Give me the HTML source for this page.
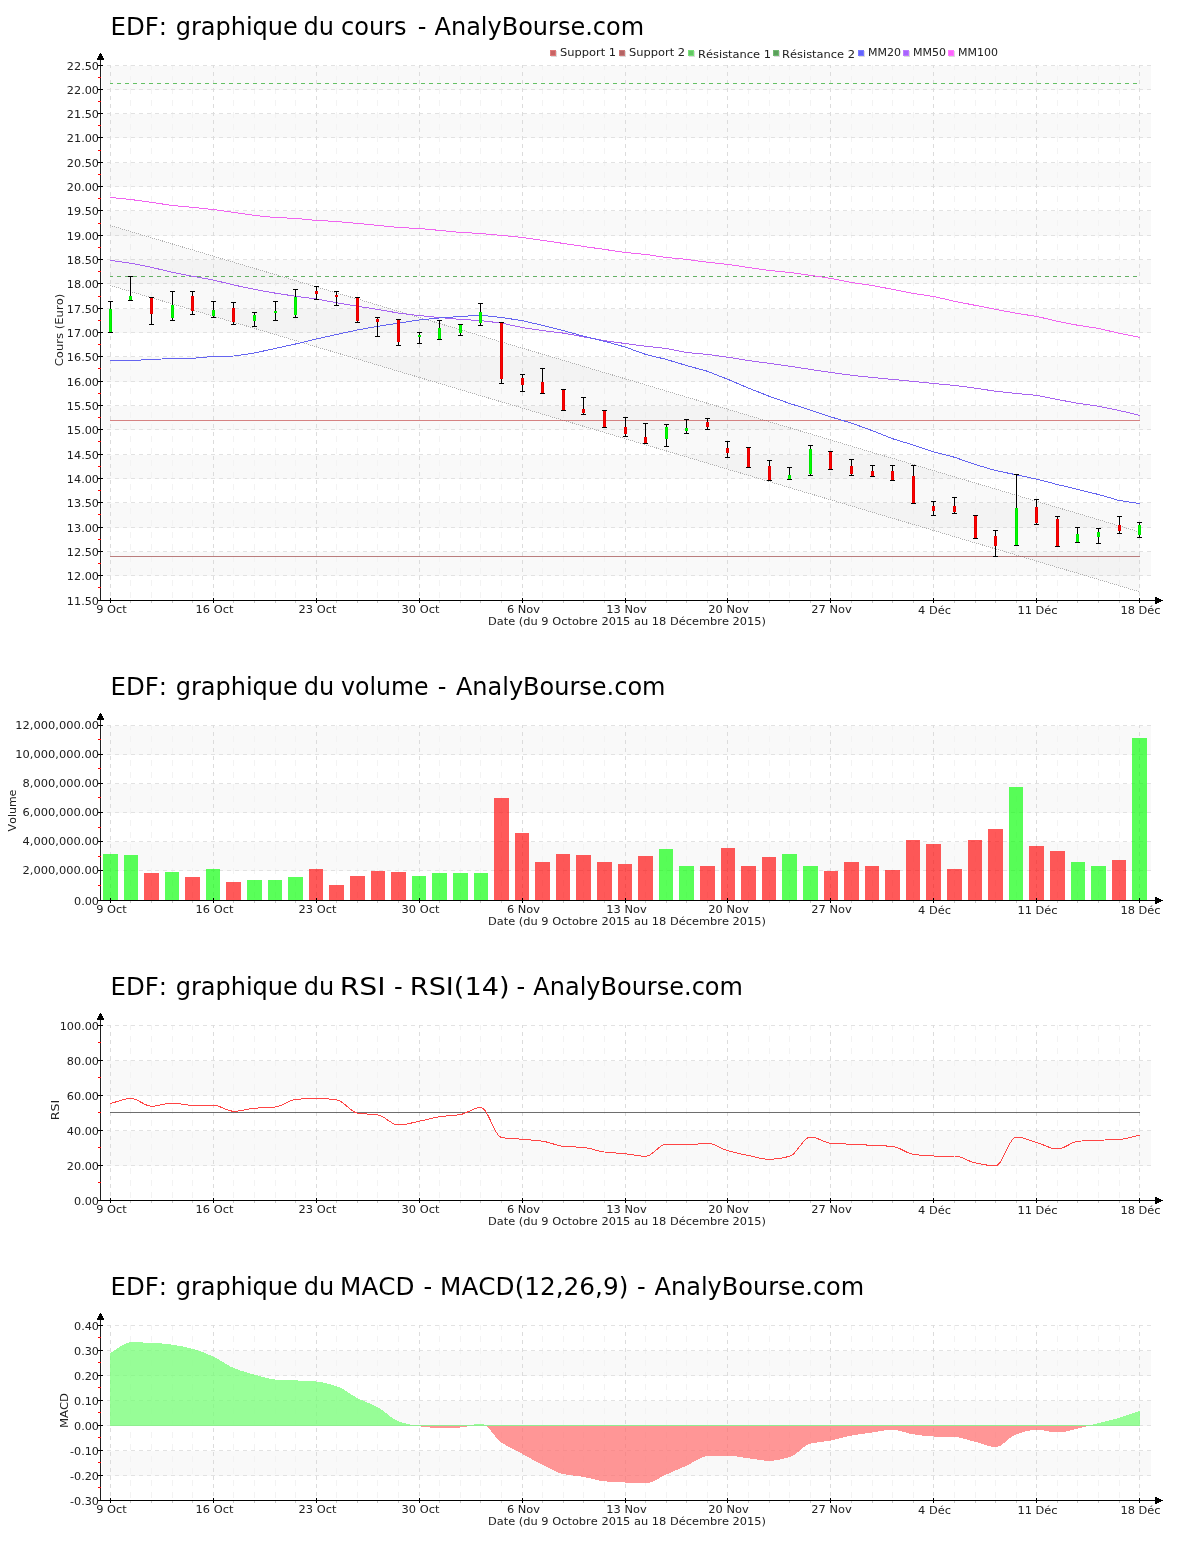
<!DOCTYPE html>
<html><head><meta charset="utf-8"><title>EDF - AnalyBourse.com</title>
<style>
html,body{margin:0;padding:0;background:#fff;}
body{width:1200px;height:1550px;overflow:hidden;}
svg{will-change:transform;display:block;font-family:'DejaVu Sans', 'Liberation Sans', sans-serif;font-kerning:none;font-variant-ligatures:none;}
svg rect, svg line{shape-rendering:crispEdges;}
</style></head><body>
<svg width="1200" height="1550" viewBox="0 0 1200 1550">
<rect x="0" y="0" width="1200" height="1550" fill="#fff"/>
<text x="110.5" y="35" font-size="24" fill="#000" textLength="56.6" lengthAdjust="spacingAndGlyphs">EDF:</text>
<text x="175.7" y="35" font-size="24" fill="#000">graphique</text>
<text x="303.5" y="35" font-size="24" fill="#000">du</text>
<text x="341" y="35" font-size="24" fill="#000">cours</text>
<text x="417.8" y="35" font-size="24" fill="#000">-</text>
<text x="434.5" y="35" font-size="24" fill="#000">AnalyBourse.com</text>
<rect x="102" y="66" width="1049" height="24" fill="#f9f9f9"/>
<rect x="102" y="114" width="1049" height="24" fill="#f9f9f9"/>
<rect x="102" y="163" width="1049" height="24" fill="#f9f9f9"/>
<rect x="102" y="211" width="1049" height="25" fill="#f9f9f9"/>
<rect x="102" y="260" width="1049" height="24" fill="#f9f9f9"/>
<rect x="102" y="309" width="1049" height="24" fill="#f9f9f9"/>
<rect x="102" y="357" width="1049" height="25" fill="#f9f9f9"/>
<rect x="102" y="406" width="1049" height="24" fill="#f9f9f9"/>
<rect x="102" y="455" width="1049" height="24" fill="#f9f9f9"/>
<rect x="102" y="503" width="1049" height="25" fill="#f9f9f9"/>
<rect x="102" y="552" width="1049" height="24" fill="#f9f9f9"/>
<line x1="130.5" y1="65" x2="130.5" y2="600" stroke="#f3f3f3" stroke-dasharray="6,6" stroke-dashoffset="1"/>
<line x1="151.5" y1="65" x2="151.5" y2="600" stroke="#f3f3f3" stroke-dasharray="6,6" stroke-dashoffset="1"/>
<line x1="172.5" y1="65" x2="172.5" y2="600" stroke="#f3f3f3" stroke-dasharray="6,6" stroke-dashoffset="1"/>
<line x1="192.5" y1="65" x2="192.5" y2="600" stroke="#f3f3f3" stroke-dasharray="6,6" stroke-dashoffset="1"/>
<line x1="233.5" y1="65" x2="233.5" y2="600" stroke="#f3f3f3" stroke-dasharray="6,6" stroke-dashoffset="1"/>
<line x1="254.5" y1="65" x2="254.5" y2="600" stroke="#f3f3f3" stroke-dasharray="6,6" stroke-dashoffset="1"/>
<line x1="275.5" y1="65" x2="275.5" y2="600" stroke="#f3f3f3" stroke-dasharray="6,6" stroke-dashoffset="1"/>
<line x1="295.5" y1="65" x2="295.5" y2="600" stroke="#f3f3f3" stroke-dasharray="6,6" stroke-dashoffset="1"/>
<line x1="336.5" y1="65" x2="336.5" y2="600" stroke="#f3f3f3" stroke-dasharray="6,6" stroke-dashoffset="1"/>
<line x1="357.5" y1="65" x2="357.5" y2="600" stroke="#f3f3f3" stroke-dasharray="6,6" stroke-dashoffset="1"/>
<line x1="377.5" y1="65" x2="377.5" y2="600" stroke="#f3f3f3" stroke-dasharray="6,6" stroke-dashoffset="1"/>
<line x1="398.5" y1="65" x2="398.5" y2="600" stroke="#f3f3f3" stroke-dasharray="6,6" stroke-dashoffset="1"/>
<line x1="439.5" y1="65" x2="439.5" y2="600" stroke="#f3f3f3" stroke-dasharray="6,6" stroke-dashoffset="1"/>
<line x1="460.5" y1="65" x2="460.5" y2="600" stroke="#f3f3f3" stroke-dasharray="6,6" stroke-dashoffset="1"/>
<line x1="480.5" y1="65" x2="480.5" y2="600" stroke="#f3f3f3" stroke-dasharray="6,6" stroke-dashoffset="1"/>
<line x1="501.5" y1="65" x2="501.5" y2="600" stroke="#f3f3f3" stroke-dasharray="6,6" stroke-dashoffset="1"/>
<line x1="542.5" y1="65" x2="542.5" y2="600" stroke="#f3f3f3" stroke-dasharray="6,6" stroke-dashoffset="1"/>
<line x1="563.5" y1="65" x2="563.5" y2="600" stroke="#f3f3f3" stroke-dasharray="6,6" stroke-dashoffset="1"/>
<line x1="583.5" y1="65" x2="583.5" y2="600" stroke="#f3f3f3" stroke-dasharray="6,6" stroke-dashoffset="1"/>
<line x1="604.5" y1="65" x2="604.5" y2="600" stroke="#f3f3f3" stroke-dasharray="6,6" stroke-dashoffset="1"/>
<line x1="645.5" y1="65" x2="645.5" y2="600" stroke="#f3f3f3" stroke-dasharray="6,6" stroke-dashoffset="1"/>
<line x1="666.5" y1="65" x2="666.5" y2="600" stroke="#f3f3f3" stroke-dasharray="6,6" stroke-dashoffset="1"/>
<line x1="686.5" y1="65" x2="686.5" y2="600" stroke="#f3f3f3" stroke-dasharray="6,6" stroke-dashoffset="1"/>
<line x1="707.5" y1="65" x2="707.5" y2="600" stroke="#f3f3f3" stroke-dasharray="6,6" stroke-dashoffset="1"/>
<line x1="748.5" y1="65" x2="748.5" y2="600" stroke="#f3f3f3" stroke-dasharray="6,6" stroke-dashoffset="1"/>
<line x1="769.5" y1="65" x2="769.5" y2="600" stroke="#f3f3f3" stroke-dasharray="6,6" stroke-dashoffset="1"/>
<line x1="789.5" y1="65" x2="789.5" y2="600" stroke="#f3f3f3" stroke-dasharray="6,6" stroke-dashoffset="1"/>
<line x1="810.5" y1="65" x2="810.5" y2="600" stroke="#f3f3f3" stroke-dasharray="6,6" stroke-dashoffset="1"/>
<line x1="851.5" y1="65" x2="851.5" y2="600" stroke="#f3f3f3" stroke-dasharray="6,6" stroke-dashoffset="1"/>
<line x1="872.5" y1="65" x2="872.5" y2="600" stroke="#f3f3f3" stroke-dasharray="6,6" stroke-dashoffset="1"/>
<line x1="892.5" y1="65" x2="892.5" y2="600" stroke="#f3f3f3" stroke-dasharray="6,6" stroke-dashoffset="1"/>
<line x1="913.5" y1="65" x2="913.5" y2="600" stroke="#f3f3f3" stroke-dasharray="6,6" stroke-dashoffset="1"/>
<line x1="954.5" y1="65" x2="954.5" y2="600" stroke="#f3f3f3" stroke-dasharray="6,6" stroke-dashoffset="1"/>
<line x1="975.5" y1="65" x2="975.5" y2="600" stroke="#f3f3f3" stroke-dasharray="6,6" stroke-dashoffset="1"/>
<line x1="995.5" y1="65" x2="995.5" y2="600" stroke="#f3f3f3" stroke-dasharray="6,6" stroke-dashoffset="1"/>
<line x1="1016.5" y1="65" x2="1016.5" y2="600" stroke="#f3f3f3" stroke-dasharray="6,6" stroke-dashoffset="1"/>
<line x1="1057.5" y1="65" x2="1057.5" y2="600" stroke="#f3f3f3" stroke-dasharray="6,6" stroke-dashoffset="1"/>
<line x1="1077.5" y1="65" x2="1077.5" y2="600" stroke="#f3f3f3" stroke-dasharray="6,6" stroke-dashoffset="1"/>
<line x1="1098.5" y1="65" x2="1098.5" y2="600" stroke="#f3f3f3" stroke-dasharray="6,6" stroke-dashoffset="1"/>
<line x1="1119.5" y1="65" x2="1119.5" y2="600" stroke="#f3f3f3" stroke-dasharray="6,6" stroke-dashoffset="1"/>
<line x1="107" y1="65.5" x2="1151" y2="65.5" stroke="#e2e2e2" stroke-dasharray="4,4"/>
<line x1="107" y1="89.5" x2="1151" y2="89.5" stroke="#e2e2e2" stroke-dasharray="4,4"/>
<line x1="107" y1="113.5" x2="1151" y2="113.5" stroke="#e2e2e2" stroke-dasharray="4,4"/>
<line x1="107" y1="137.5" x2="1151" y2="137.5" stroke="#e2e2e2" stroke-dasharray="4,4"/>
<line x1="107" y1="162.5" x2="1151" y2="162.5" stroke="#e2e2e2" stroke-dasharray="4,4"/>
<line x1="107" y1="186.5" x2="1151" y2="186.5" stroke="#e2e2e2" stroke-dasharray="4,4"/>
<line x1="107" y1="210.5" x2="1151" y2="210.5" stroke="#e2e2e2" stroke-dasharray="4,4"/>
<line x1="107" y1="235.5" x2="1151" y2="235.5" stroke="#e2e2e2" stroke-dasharray="4,4"/>
<line x1="107" y1="259.5" x2="1151" y2="259.5" stroke="#e2e2e2" stroke-dasharray="4,4"/>
<line x1="107" y1="283.5" x2="1151" y2="283.5" stroke="#e2e2e2" stroke-dasharray="4,4"/>
<line x1="107" y1="308.5" x2="1151" y2="308.5" stroke="#e2e2e2" stroke-dasharray="4,4"/>
<line x1="107" y1="332.5" x2="1151" y2="332.5" stroke="#e2e2e2" stroke-dasharray="4,4"/>
<line x1="107" y1="356.5" x2="1151" y2="356.5" stroke="#e2e2e2" stroke-dasharray="4,4"/>
<line x1="107" y1="381.5" x2="1151" y2="381.5" stroke="#e2e2e2" stroke-dasharray="4,4"/>
<line x1="107" y1="405.5" x2="1151" y2="405.5" stroke="#e2e2e2" stroke-dasharray="4,4"/>
<line x1="107" y1="429.5" x2="1151" y2="429.5" stroke="#e2e2e2" stroke-dasharray="4,4"/>
<line x1="107" y1="454.5" x2="1151" y2="454.5" stroke="#e2e2e2" stroke-dasharray="4,4"/>
<line x1="107" y1="478.5" x2="1151" y2="478.5" stroke="#e2e2e2" stroke-dasharray="4,4"/>
<line x1="107" y1="502.5" x2="1151" y2="502.5" stroke="#e2e2e2" stroke-dasharray="4,4"/>
<line x1="107" y1="527.5" x2="1151" y2="527.5" stroke="#e2e2e2" stroke-dasharray="4,4"/>
<line x1="107" y1="551.5" x2="1151" y2="551.5" stroke="#e2e2e2" stroke-dasharray="4,4"/>
<line x1="107" y1="575.5" x2="1151" y2="575.5" stroke="#e2e2e2" stroke-dasharray="4,4"/>
<line x1="110.5" y1="65" x2="110.5" y2="600" stroke="#dcdcdc" stroke-dasharray="4,4" stroke-dashoffset="1"/>
<line x1="213.5" y1="65" x2="213.5" y2="600" stroke="#dcdcdc" stroke-dasharray="4,4" stroke-dashoffset="1"/>
<line x1="316.5" y1="65" x2="316.5" y2="600" stroke="#dcdcdc" stroke-dasharray="4,4" stroke-dashoffset="1"/>
<line x1="419.5" y1="65" x2="419.5" y2="600" stroke="#dcdcdc" stroke-dasharray="4,4" stroke-dashoffset="1"/>
<line x1="522.5" y1="65" x2="522.5" y2="600" stroke="#dcdcdc" stroke-dasharray="4,4" stroke-dashoffset="1"/>
<line x1="625.5" y1="65" x2="625.5" y2="600" stroke="#dcdcdc" stroke-dasharray="4,4" stroke-dashoffset="1"/>
<line x1="727.5" y1="65" x2="727.5" y2="600" stroke="#dcdcdc" stroke-dasharray="4,4" stroke-dashoffset="1"/>
<line x1="830.5" y1="65" x2="830.5" y2="600" stroke="#dcdcdc" stroke-dasharray="4,4" stroke-dashoffset="1"/>
<line x1="933.5" y1="65" x2="933.5" y2="600" stroke="#dcdcdc" stroke-dasharray="4,4" stroke-dashoffset="1"/>
<line x1="1036.5" y1="65" x2="1036.5" y2="600" stroke="#dcdcdc" stroke-dasharray="4,4" stroke-dashoffset="1"/>
<line x1="1139.5" y1="65" x2="1139.5" y2="600" stroke="#dcdcdc" stroke-dasharray="4,4" stroke-dashoffset="1"/>
<polygon points="110.33,225.5 1139.73,532.0 1139.73,591.8 110.33,285.5" fill="#000" fill-opacity="0.025"/>
<line x1="110.33" y1="225.5" x2="1139.73" y2="532.0" stroke="#b0b0b0" stroke-dasharray="1.04,1.046" shape-rendering="crispEdges"/>
<line x1="110.33" y1="285.5" x2="1139.73" y2="591.8" stroke="#b0b0b0" stroke-dasharray="1.04,1.046" shape-rendering="crispEdges"/>
<rect x="110" y="420" width="1030" height="1" fill="#c65050" fill-opacity="0.7"/>
<rect x="110" y="556" width="1030" height="1" fill="#a04848" fill-opacity="0.7"/>
<line x1="110" y1="83.5" x2="1140" y2="83.5" stroke="#64c064" stroke-dasharray="4,4" stroke-dashoffset="1"/>
<line x1="110" y1="276.5" x2="1140" y2="276.5" stroke="#64b064" stroke-dasharray="4,4" stroke-dashoffset="1"/>
<polyline points="110.33,197.40 130.92,199.50 151.51,202.40 172.09,205.40 192.68,207.40 213.27,209.50 233.86,212.40 254.45,215.40 275.03,217.50 295.62,218.40 316.21,220.40 336.80,221.50 357.39,223.40 377.97,225.40 398.56,227.50 419.15,228.50 439.74,230.40 460.33,232.40 480.91,233.50 501.50,235.40 522.09,237.40 542.68,240.40 563.27,243.40 583.85,246.50 604.44,249.40 625.03,252.50 645.62,254.40 666.21,257.50 686.79,259.40 707.38,262.25 727.97,264.40 748.56,267.50 769.15,270.40 789.73,272.50 810.32,275.25 830.91,278.40 851.50,282.50 872.09,285.40 892.67,289.40 913.26,293.50 933.85,296.50 954.44,301.25 975.03,305.30 995.61,309.30 1016.20,313.30 1036.79,316.40 1057.38,321.30 1077.97,325.30 1098.55,328.40 1119.14,333.30 1139.73,337.30" fill="none" stroke="#f064f0" stroke-width="1" shape-rendering="crispEdges"/>
<polyline points="110.33,260.40 130.92,263.30 151.51,267.30 172.09,272.30 192.68,276.25 213.27,280.00 233.86,285.00 254.45,289.40 275.03,293.10 295.62,296.25 316.21,299.00 336.80,302.75 357.39,306.25 377.97,309.40 398.56,313.10 419.15,315.60 439.74,317.50 460.33,319.40 480.91,320.60 501.50,323.10 522.09,327.50 542.68,330.60 563.27,333.10 583.85,336.90 604.44,340.60 625.03,343.50 645.62,346.25 666.21,348.50 686.79,352.50 707.38,354.40 727.97,357.25 748.56,360.60 769.15,363.30 789.73,366.25 810.32,369.40 830.91,372.50 851.50,375.25 872.09,377.50 892.67,379.40 913.26,381.40 933.85,383.50 954.44,385.40 975.03,388.10 995.61,391.25 1016.20,393.50 1036.79,395.40 1057.38,399.50 1077.97,403.30 1098.55,406.20 1119.14,410.50 1139.73,415.30" fill="none" stroke="#a864f0" stroke-width="1" shape-rendering="crispEdges"/>
<polyline points="110.33,360.50 130.92,360.50 151.51,359.50 172.09,358.50 192.68,358.30 213.27,356.50 233.86,356.00 254.45,353.00 275.03,348.50 295.62,344.00 316.21,339.00 336.80,334.40 357.39,330.00 377.97,326.25 398.56,323.10 419.15,320.00 439.74,317.90 460.33,316.50 480.91,315.25 501.50,317.50 522.09,320.60 542.68,325.40 563.27,330.60 583.85,336.25 604.44,341.25 625.03,347.00 645.62,354.40 666.21,359.40 686.79,365.60 707.38,371.25 727.97,379.40 748.56,388.10 769.15,396.25 789.73,403.50 810.32,410.00 830.91,416.90 851.50,423.10 872.09,430.60 892.67,438.75 913.26,445.00 933.85,451.90 954.44,457.25 975.03,464.40 995.61,470.60 1016.20,474.75 1036.79,479.20 1057.38,484.50 1077.97,489.50 1098.55,494.50 1119.14,500.50 1139.73,503.50" fill="none" stroke="#6464f0" stroke-width="1" shape-rendering="crispEdges"/>
<rect x="110" y="301" width="1" height="32" fill="#000"/>
<rect x="109" y="309" width="3" height="23" fill="#00e400"/>
<rect x="110" y="309" width="1" height="23" fill="#00ff00"/>
<rect x="108" y="301" width="5" height="1" fill="#000"/>
<rect x="108" y="332" width="5" height="1" fill="#000"/>
<rect x="130" y="276" width="1" height="25" fill="#000"/>
<rect x="129" y="296" width="3" height="4" fill="#00e400"/>
<rect x="130" y="296" width="1" height="4" fill="#00ff00"/>
<rect x="128" y="276" width="5" height="1" fill="#000"/>
<rect x="128" y="300" width="5" height="1" fill="#000"/>
<rect x="151" y="297" width="1" height="28" fill="#000"/>
<rect x="150" y="297" width="3" height="17" fill="#e40000"/>
<rect x="151" y="297" width="1" height="17" fill="#ff0000"/>
<rect x="149" y="297" width="5" height="1" fill="#000"/>
<rect x="149" y="324" width="5" height="1" fill="#000"/>
<rect x="172" y="291" width="1" height="30" fill="#000"/>
<rect x="171" y="305" width="3" height="13" fill="#00e400"/>
<rect x="172" y="305" width="1" height="13" fill="#00ff00"/>
<rect x="170" y="291" width="5" height="1" fill="#000"/>
<rect x="170" y="320" width="5" height="1" fill="#000"/>
<rect x="192" y="291" width="1" height="24" fill="#000"/>
<rect x="191" y="296" width="3" height="15" fill="#e40000"/>
<rect x="192" y="296" width="1" height="15" fill="#ff0000"/>
<rect x="190" y="291" width="5" height="1" fill="#000"/>
<rect x="190" y="314" width="5" height="1" fill="#000"/>
<rect x="213" y="301" width="1" height="17" fill="#000"/>
<rect x="212" y="310" width="3" height="6" fill="#00e400"/>
<rect x="213" y="310" width="1" height="6" fill="#00ff00"/>
<rect x="211" y="301" width="5" height="1" fill="#000"/>
<rect x="211" y="317" width="5" height="1" fill="#000"/>
<rect x="233" y="302" width="1" height="23" fill="#000"/>
<rect x="232" y="308" width="3" height="14" fill="#e40000"/>
<rect x="233" y="308" width="1" height="14" fill="#ff0000"/>
<rect x="231" y="302" width="5" height="1" fill="#000"/>
<rect x="231" y="324" width="5" height="1" fill="#000"/>
<rect x="254" y="312" width="1" height="15" fill="#000"/>
<rect x="253" y="315" width="3" height="6" fill="#00e400"/>
<rect x="254" y="315" width="1" height="6" fill="#00ff00"/>
<rect x="252" y="312" width="5" height="1" fill="#000"/>
<rect x="252" y="326" width="5" height="1" fill="#000"/>
<rect x="275" y="301" width="1" height="20" fill="#000"/>
<rect x="274" y="311" width="3" height="2" fill="#00e400"/>
<rect x="275" y="311" width="1" height="2" fill="#00ff00"/>
<rect x="273" y="301" width="5" height="1" fill="#000"/>
<rect x="273" y="320" width="5" height="1" fill="#000"/>
<rect x="295" y="289" width="1" height="29" fill="#000"/>
<rect x="294" y="297" width="3" height="18" fill="#00e400"/>
<rect x="295" y="297" width="1" height="18" fill="#00ff00"/>
<rect x="293" y="289" width="5" height="1" fill="#000"/>
<rect x="293" y="317" width="5" height="1" fill="#000"/>
<rect x="316" y="286" width="1" height="14" fill="#000"/>
<rect x="315" y="291" width="3" height="3" fill="#e40000"/>
<rect x="316" y="291" width="1" height="3" fill="#ff0000"/>
<rect x="314" y="286" width="5" height="1" fill="#000"/>
<rect x="314" y="299" width="5" height="1" fill="#000"/>
<rect x="336" y="291" width="1" height="15" fill="#000"/>
<rect x="335" y="295" width="3" height="2" fill="#e40000"/>
<rect x="336" y="295" width="1" height="2" fill="#ff0000"/>
<rect x="334" y="291" width="5" height="1" fill="#000"/>
<rect x="334" y="305" width="5" height="1" fill="#000"/>
<rect x="357" y="297" width="1" height="26" fill="#000"/>
<rect x="356" y="297" width="3" height="24" fill="#e40000"/>
<rect x="357" y="297" width="1" height="24" fill="#ff0000"/>
<rect x="355" y="297" width="5" height="1" fill="#000"/>
<rect x="355" y="322" width="5" height="1" fill="#000"/>
<rect x="377" y="317" width="1" height="20" fill="#000"/>
<rect x="376" y="319" width="3" height="3" fill="#e40000"/>
<rect x="377" y="319" width="1" height="3" fill="#ff0000"/>
<rect x="375" y="317" width="5" height="1" fill="#000"/>
<rect x="375" y="336" width="5" height="1" fill="#000"/>
<rect x="398" y="319" width="1" height="27" fill="#000"/>
<rect x="397" y="319" width="3" height="23" fill="#e40000"/>
<rect x="398" y="319" width="1" height="23" fill="#ff0000"/>
<rect x="396" y="319" width="5" height="1" fill="#000"/>
<rect x="396" y="345" width="5" height="1" fill="#000"/>
<rect x="419" y="332" width="1" height="12" fill="#000"/>
<rect x="418" y="335" width="3" height="2" fill="#00e400"/>
<rect x="419" y="335" width="1" height="2" fill="#00ff00"/>
<rect x="417" y="332" width="5" height="1" fill="#000"/>
<rect x="417" y="343" width="5" height="1" fill="#000"/>
<rect x="439" y="320" width="1" height="20" fill="#000"/>
<rect x="438" y="328" width="3" height="11" fill="#00e400"/>
<rect x="439" y="328" width="1" height="11" fill="#00ff00"/>
<rect x="437" y="320" width="5" height="1" fill="#000"/>
<rect x="437" y="339" width="5" height="1" fill="#000"/>
<rect x="460" y="324" width="1" height="12" fill="#000"/>
<rect x="459" y="325" width="3" height="8" fill="#00e400"/>
<rect x="460" y="325" width="1" height="8" fill="#00ff00"/>
<rect x="458" y="324" width="5" height="1" fill="#000"/>
<rect x="458" y="335" width="5" height="1" fill="#000"/>
<rect x="480" y="303" width="1" height="23" fill="#000"/>
<rect x="479" y="312" width="3" height="11" fill="#00e400"/>
<rect x="480" y="312" width="1" height="11" fill="#00ff00"/>
<rect x="478" y="303" width="5" height="1" fill="#000"/>
<rect x="478" y="325" width="5" height="1" fill="#000"/>
<rect x="501" y="322" width="1" height="62" fill="#000"/>
<rect x="500" y="322" width="3" height="57" fill="#e40000"/>
<rect x="501" y="322" width="1" height="57" fill="#ff0000"/>
<rect x="499" y="322" width="5" height="1" fill="#000"/>
<rect x="499" y="383" width="5" height="1" fill="#000"/>
<rect x="522" y="374" width="1" height="18" fill="#000"/>
<rect x="521" y="378" width="3" height="7" fill="#e40000"/>
<rect x="522" y="378" width="1" height="7" fill="#ff0000"/>
<rect x="520" y="374" width="5" height="1" fill="#000"/>
<rect x="520" y="391" width="5" height="1" fill="#000"/>
<rect x="542" y="368" width="1" height="26" fill="#000"/>
<rect x="541" y="382" width="3" height="11" fill="#e40000"/>
<rect x="542" y="382" width="1" height="11" fill="#ff0000"/>
<rect x="540" y="368" width="5" height="1" fill="#000"/>
<rect x="540" y="393" width="5" height="1" fill="#000"/>
<rect x="563" y="389" width="1" height="22" fill="#000"/>
<rect x="562" y="389" width="3" height="21" fill="#e40000"/>
<rect x="563" y="389" width="1" height="21" fill="#ff0000"/>
<rect x="561" y="389" width="5" height="1" fill="#000"/>
<rect x="561" y="410" width="5" height="1" fill="#000"/>
<rect x="583" y="397" width="1" height="18" fill="#000"/>
<rect x="582" y="409" width="3" height="4" fill="#e40000"/>
<rect x="583" y="409" width="1" height="4" fill="#ff0000"/>
<rect x="581" y="397" width="5" height="1" fill="#000"/>
<rect x="581" y="414" width="5" height="1" fill="#000"/>
<rect x="604" y="410" width="1" height="18" fill="#000"/>
<rect x="603" y="410" width="3" height="17" fill="#e40000"/>
<rect x="604" y="410" width="1" height="17" fill="#ff0000"/>
<rect x="602" y="410" width="5" height="1" fill="#000"/>
<rect x="602" y="427" width="5" height="1" fill="#000"/>
<rect x="625" y="417" width="1" height="20" fill="#000"/>
<rect x="624" y="427" width="3" height="7" fill="#e40000"/>
<rect x="625" y="427" width="1" height="7" fill="#ff0000"/>
<rect x="623" y="417" width="5" height="1" fill="#000"/>
<rect x="623" y="436" width="5" height="1" fill="#000"/>
<rect x="645" y="423" width="1" height="21" fill="#000"/>
<rect x="644" y="437" width="3" height="6" fill="#e40000"/>
<rect x="645" y="437" width="1" height="6" fill="#ff0000"/>
<rect x="643" y="423" width="5" height="1" fill="#000"/>
<rect x="643" y="443" width="5" height="1" fill="#000"/>
<rect x="666" y="424" width="1" height="23" fill="#000"/>
<rect x="665" y="427" width="3" height="12" fill="#00e400"/>
<rect x="666" y="427" width="1" height="12" fill="#00ff00"/>
<rect x="664" y="424" width="5" height="1" fill="#000"/>
<rect x="664" y="446" width="5" height="1" fill="#000"/>
<rect x="686" y="419" width="1" height="15" fill="#000"/>
<rect x="685" y="428" width="3" height="3" fill="#00e400"/>
<rect x="686" y="428" width="1" height="3" fill="#00ff00"/>
<rect x="684" y="419" width="5" height="1" fill="#000"/>
<rect x="684" y="433" width="5" height="1" fill="#000"/>
<rect x="707" y="418" width="1" height="12" fill="#000"/>
<rect x="706" y="422" width="3" height="5" fill="#e40000"/>
<rect x="707" y="422" width="1" height="5" fill="#ff0000"/>
<rect x="705" y="418" width="5" height="1" fill="#000"/>
<rect x="705" y="429" width="5" height="1" fill="#000"/>
<rect x="727" y="441" width="1" height="17" fill="#000"/>
<rect x="726" y="448" width="3" height="5" fill="#e40000"/>
<rect x="727" y="448" width="1" height="5" fill="#ff0000"/>
<rect x="725" y="441" width="5" height="1" fill="#000"/>
<rect x="725" y="457" width="5" height="1" fill="#000"/>
<rect x="748" y="447" width="1" height="21" fill="#000"/>
<rect x="747" y="447" width="3" height="20" fill="#e40000"/>
<rect x="748" y="447" width="1" height="20" fill="#ff0000"/>
<rect x="746" y="447" width="5" height="1" fill="#000"/>
<rect x="746" y="467" width="5" height="1" fill="#000"/>
<rect x="769" y="460" width="1" height="21" fill="#000"/>
<rect x="768" y="466" width="3" height="14" fill="#e40000"/>
<rect x="769" y="466" width="1" height="14" fill="#ff0000"/>
<rect x="767" y="460" width="5" height="1" fill="#000"/>
<rect x="767" y="480" width="5" height="1" fill="#000"/>
<rect x="789" y="467" width="1" height="13" fill="#000"/>
<rect x="788" y="475" width="3" height="4" fill="#00e400"/>
<rect x="789" y="475" width="1" height="4" fill="#00ff00"/>
<rect x="787" y="467" width="5" height="1" fill="#000"/>
<rect x="787" y="479" width="5" height="1" fill="#000"/>
<rect x="810" y="445" width="1" height="31" fill="#000"/>
<rect x="809" y="449" width="3" height="25" fill="#00e400"/>
<rect x="810" y="449" width="1" height="25" fill="#00ff00"/>
<rect x="808" y="445" width="5" height="1" fill="#000"/>
<rect x="808" y="475" width="5" height="1" fill="#000"/>
<rect x="830" y="451" width="1" height="19" fill="#000"/>
<rect x="829" y="451" width="3" height="18" fill="#e40000"/>
<rect x="830" y="451" width="1" height="18" fill="#ff0000"/>
<rect x="828" y="451" width="5" height="1" fill="#000"/>
<rect x="828" y="469" width="5" height="1" fill="#000"/>
<rect x="851" y="459" width="1" height="17" fill="#000"/>
<rect x="850" y="466" width="3" height="8" fill="#e40000"/>
<rect x="851" y="466" width="1" height="8" fill="#ff0000"/>
<rect x="849" y="459" width="5" height="1" fill="#000"/>
<rect x="849" y="475" width="5" height="1" fill="#000"/>
<rect x="872" y="465" width="1" height="12" fill="#000"/>
<rect x="871" y="471" width="3" height="5" fill="#e40000"/>
<rect x="872" y="471" width="1" height="5" fill="#ff0000"/>
<rect x="870" y="465" width="5" height="1" fill="#000"/>
<rect x="870" y="476" width="5" height="1" fill="#000"/>
<rect x="892" y="465" width="1" height="16" fill="#000"/>
<rect x="891" y="471" width="3" height="9" fill="#e40000"/>
<rect x="892" y="471" width="1" height="9" fill="#ff0000"/>
<rect x="890" y="465" width="5" height="1" fill="#000"/>
<rect x="890" y="480" width="5" height="1" fill="#000"/>
<rect x="913" y="465" width="1" height="39" fill="#000"/>
<rect x="912" y="476" width="3" height="27" fill="#e40000"/>
<rect x="913" y="476" width="1" height="27" fill="#ff0000"/>
<rect x="911" y="465" width="5" height="1" fill="#000"/>
<rect x="911" y="503" width="5" height="1" fill="#000"/>
<rect x="933" y="501" width="1" height="15" fill="#000"/>
<rect x="932" y="506" width="3" height="5" fill="#e40000"/>
<rect x="933" y="506" width="1" height="5" fill="#ff0000"/>
<rect x="931" y="501" width="5" height="1" fill="#000"/>
<rect x="931" y="515" width="5" height="1" fill="#000"/>
<rect x="954" y="497" width="1" height="17" fill="#000"/>
<rect x="953" y="506" width="3" height="6" fill="#e40000"/>
<rect x="954" y="506" width="1" height="6" fill="#ff0000"/>
<rect x="952" y="497" width="5" height="1" fill="#000"/>
<rect x="952" y="513" width="5" height="1" fill="#000"/>
<rect x="975" y="515" width="1" height="24" fill="#000"/>
<rect x="974" y="515" width="3" height="23" fill="#e40000"/>
<rect x="975" y="515" width="1" height="23" fill="#ff0000"/>
<rect x="973" y="515" width="5" height="1" fill="#000"/>
<rect x="973" y="538" width="5" height="1" fill="#000"/>
<rect x="995" y="530" width="1" height="27" fill="#000"/>
<rect x="994" y="536" width="3" height="10" fill="#e40000"/>
<rect x="995" y="536" width="1" height="10" fill="#ff0000"/>
<rect x="993" y="530" width="5" height="1" fill="#000"/>
<rect x="993" y="556" width="5" height="1" fill="#000"/>
<rect x="1016" y="474" width="1" height="72" fill="#000"/>
<rect x="1015" y="508" width="3" height="37" fill="#00e400"/>
<rect x="1016" y="508" width="1" height="37" fill="#00ff00"/>
<rect x="1014" y="474" width="5" height="1" fill="#000"/>
<rect x="1014" y="545" width="5" height="1" fill="#000"/>
<rect x="1036" y="499" width="1" height="26" fill="#000"/>
<rect x="1035" y="507" width="3" height="16" fill="#e40000"/>
<rect x="1036" y="507" width="1" height="16" fill="#ff0000"/>
<rect x="1034" y="499" width="5" height="1" fill="#000"/>
<rect x="1034" y="524" width="5" height="1" fill="#000"/>
<rect x="1057" y="516" width="1" height="31" fill="#000"/>
<rect x="1056" y="519" width="3" height="27" fill="#e40000"/>
<rect x="1057" y="519" width="1" height="27" fill="#ff0000"/>
<rect x="1055" y="516" width="5" height="1" fill="#000"/>
<rect x="1055" y="546" width="5" height="1" fill="#000"/>
<rect x="1077" y="527" width="1" height="16" fill="#000"/>
<rect x="1076" y="534" width="3" height="8" fill="#00e400"/>
<rect x="1077" y="534" width="1" height="8" fill="#00ff00"/>
<rect x="1075" y="527" width="5" height="1" fill="#000"/>
<rect x="1075" y="542" width="5" height="1" fill="#000"/>
<rect x="1098" y="528" width="1" height="16" fill="#000"/>
<rect x="1097" y="532" width="3" height="5" fill="#00e400"/>
<rect x="1098" y="532" width="1" height="5" fill="#00ff00"/>
<rect x="1096" y="528" width="5" height="1" fill="#000"/>
<rect x="1096" y="543" width="5" height="1" fill="#000"/>
<rect x="1119" y="516" width="1" height="18" fill="#000"/>
<rect x="1118" y="525" width="3" height="6" fill="#e40000"/>
<rect x="1119" y="525" width="1" height="6" fill="#ff0000"/>
<rect x="1117" y="516" width="5" height="1" fill="#000"/>
<rect x="1117" y="533" width="5" height="1" fill="#000"/>
<rect x="1139" y="522" width="1" height="16" fill="#000"/>
<rect x="1138" y="525" width="3" height="10" fill="#00e400"/>
<rect x="1139" y="525" width="1" height="10" fill="#00ff00"/>
<rect x="1137" y="522" width="5" height="1" fill="#000"/>
<rect x="1137" y="537" width="5" height="1" fill="#000"/>
<rect x="100" y="58" width="1" height="543" fill="#1e1e1e"/>
<rect x="100" y="53" width="1" height="1" fill="#000"/>
<rect x="99" y="54" width="3" height="2" fill="#000"/>
<rect x="98" y="56" width="5" height="2" fill="#000"/>
<rect x="97" y="58" width="7" height="2" fill="#000"/>
<rect x="100" y="600" width="1063" height="1" fill="#000"/>
<rect x="1155" y="597" width="2" height="7" fill="#000"/>
<rect x="1157" y="598" width="2" height="5" fill="#000"/>
<rect x="1159" y="599" width="2" height="3" fill="#000"/>
<rect x="98" y="65" width="5" height="1" fill="#000"/>
<rect x="98" y="89" width="5" height="1" fill="#000"/>
<rect x="98" y="113" width="5" height="1" fill="#000"/>
<rect x="98" y="137" width="5" height="1" fill="#000"/>
<rect x="98" y="162" width="5" height="1" fill="#000"/>
<rect x="98" y="186" width="5" height="1" fill="#000"/>
<rect x="98" y="210" width="5" height="1" fill="#000"/>
<rect x="98" y="235" width="5" height="1" fill="#000"/>
<rect x="98" y="259" width="5" height="1" fill="#000"/>
<rect x="98" y="283" width="5" height="1" fill="#000"/>
<rect x="98" y="308" width="5" height="1" fill="#000"/>
<rect x="98" y="332" width="5" height="1" fill="#000"/>
<rect x="98" y="356" width="5" height="1" fill="#000"/>
<rect x="98" y="381" width="5" height="1" fill="#000"/>
<rect x="98" y="405" width="5" height="1" fill="#000"/>
<rect x="98" y="429" width="5" height="1" fill="#000"/>
<rect x="98" y="454" width="5" height="1" fill="#000"/>
<rect x="98" y="478" width="5" height="1" fill="#000"/>
<rect x="98" y="502" width="5" height="1" fill="#000"/>
<rect x="98" y="527" width="5" height="1" fill="#000"/>
<rect x="98" y="551" width="5" height="1" fill="#000"/>
<rect x="98" y="575" width="5" height="1" fill="#000"/>
<rect x="98" y="600" width="5" height="1" fill="#000"/>
<rect x="98" y="77" width="3" height="1" fill="#ff0000"/>
<rect x="98" y="101" width="3" height="1" fill="#ff0000"/>
<rect x="98" y="125" width="3" height="1" fill="#ff0000"/>
<rect x="98" y="150" width="3" height="1" fill="#ff0000"/>
<rect x="98" y="174" width="3" height="1" fill="#ff0000"/>
<rect x="98" y="198" width="3" height="1" fill="#ff0000"/>
<rect x="98" y="223" width="3" height="1" fill="#ff0000"/>
<rect x="98" y="247" width="3" height="1" fill="#ff0000"/>
<rect x="98" y="271" width="3" height="1" fill="#ff0000"/>
<rect x="98" y="296" width="3" height="1" fill="#ff0000"/>
<rect x="98" y="320" width="3" height="1" fill="#ff0000"/>
<rect x="98" y="344" width="3" height="1" fill="#ff0000"/>
<rect x="98" y="368" width="3" height="1" fill="#ff0000"/>
<rect x="98" y="393" width="3" height="1" fill="#ff0000"/>
<rect x="98" y="417" width="3" height="1" fill="#ff0000"/>
<rect x="98" y="441" width="3" height="1" fill="#ff0000"/>
<rect x="98" y="466" width="3" height="1" fill="#ff0000"/>
<rect x="98" y="490" width="3" height="1" fill="#ff0000"/>
<rect x="98" y="514" width="3" height="1" fill="#ff0000"/>
<rect x="98" y="539" width="3" height="1" fill="#ff0000"/>
<rect x="98" y="563" width="3" height="1" fill="#ff0000"/>
<rect x="98" y="587" width="3" height="1" fill="#ff0000"/>
<text x="99" y="70" font-size="11" fill="#202020" text-anchor="end" textLength="32.12" lengthAdjust="spacingAndGlyphs">22.50</text>
<text x="99" y="94" font-size="11" fill="#202020" text-anchor="end" textLength="32.12" lengthAdjust="spacingAndGlyphs">22.00</text>
<text x="99" y="118" font-size="11" fill="#202020" text-anchor="end" textLength="32.12" lengthAdjust="spacingAndGlyphs">21.50</text>
<text x="99" y="142" font-size="11" fill="#202020" text-anchor="end" textLength="32.12" lengthAdjust="spacingAndGlyphs">21.00</text>
<text x="99" y="167" font-size="11" fill="#202020" text-anchor="end" textLength="32.12" lengthAdjust="spacingAndGlyphs">20.50</text>
<text x="99" y="191" font-size="11" fill="#202020" text-anchor="end" textLength="32.12" lengthAdjust="spacingAndGlyphs">20.00</text>
<text x="99" y="215" font-size="11" fill="#202020" text-anchor="end" textLength="32.12" lengthAdjust="spacingAndGlyphs">19.50</text>
<text x="99" y="240" font-size="11" fill="#202020" text-anchor="end" textLength="32.12" lengthAdjust="spacingAndGlyphs">19.00</text>
<text x="99" y="264" font-size="11" fill="#202020" text-anchor="end" textLength="32.12" lengthAdjust="spacingAndGlyphs">18.50</text>
<text x="99" y="288" font-size="11" fill="#202020" text-anchor="end" textLength="32.12" lengthAdjust="spacingAndGlyphs">18.00</text>
<text x="99" y="313" font-size="11" fill="#202020" text-anchor="end" textLength="32.12" lengthAdjust="spacingAndGlyphs">17.50</text>
<text x="99" y="337" font-size="11" fill="#202020" text-anchor="end" textLength="32.12" lengthAdjust="spacingAndGlyphs">17.00</text>
<text x="99" y="361" font-size="11" fill="#202020" text-anchor="end" textLength="32.12" lengthAdjust="spacingAndGlyphs">16.50</text>
<text x="99" y="386" font-size="11" fill="#202020" text-anchor="end" textLength="32.12" lengthAdjust="spacingAndGlyphs">16.00</text>
<text x="99" y="410" font-size="11" fill="#202020" text-anchor="end" textLength="32.12" lengthAdjust="spacingAndGlyphs">15.50</text>
<text x="99" y="434" font-size="11" fill="#202020" text-anchor="end" textLength="32.12" lengthAdjust="spacingAndGlyphs">15.00</text>
<text x="99" y="459" font-size="11" fill="#202020" text-anchor="end" textLength="32.12" lengthAdjust="spacingAndGlyphs">14.50</text>
<text x="99" y="483" font-size="11" fill="#202020" text-anchor="end" textLength="32.12" lengthAdjust="spacingAndGlyphs">14.00</text>
<text x="99" y="507" font-size="11" fill="#202020" text-anchor="end" textLength="32.12" lengthAdjust="spacingAndGlyphs">13.50</text>
<text x="99" y="532" font-size="11" fill="#202020" text-anchor="end" textLength="32.12" lengthAdjust="spacingAndGlyphs">13.00</text>
<text x="99" y="556" font-size="11" fill="#202020" text-anchor="end" textLength="32.12" lengthAdjust="spacingAndGlyphs">12.50</text>
<text x="99" y="580" font-size="11" fill="#202020" text-anchor="end" textLength="32.12" lengthAdjust="spacingAndGlyphs">12.00</text>
<text x="99" y="605" font-size="11" fill="#202020" text-anchor="end" textLength="32.12" lengthAdjust="spacingAndGlyphs">11.50</text>
<rect x="110" y="598" width="1" height="5" fill="#000"/>
<rect x="130" y="601" width="1" height="2" fill="#c8c8c8"/>
<rect x="151" y="601" width="1" height="2" fill="#c8c8c8"/>
<rect x="172" y="601" width="1" height="2" fill="#c8c8c8"/>
<rect x="192" y="601" width="1" height="2" fill="#c8c8c8"/>
<rect x="213" y="598" width="1" height="5" fill="#000"/>
<rect x="233" y="601" width="1" height="2" fill="#c8c8c8"/>
<rect x="254" y="601" width="1" height="2" fill="#c8c8c8"/>
<rect x="275" y="601" width="1" height="2" fill="#c8c8c8"/>
<rect x="295" y="601" width="1" height="2" fill="#c8c8c8"/>
<rect x="316" y="598" width="1" height="5" fill="#000"/>
<rect x="336" y="601" width="1" height="2" fill="#c8c8c8"/>
<rect x="357" y="601" width="1" height="2" fill="#c8c8c8"/>
<rect x="377" y="601" width="1" height="2" fill="#c8c8c8"/>
<rect x="398" y="601" width="1" height="2" fill="#c8c8c8"/>
<rect x="419" y="598" width="1" height="5" fill="#000"/>
<rect x="439" y="601" width="1" height="2" fill="#c8c8c8"/>
<rect x="460" y="601" width="1" height="2" fill="#c8c8c8"/>
<rect x="480" y="601" width="1" height="2" fill="#c8c8c8"/>
<rect x="501" y="601" width="1" height="2" fill="#c8c8c8"/>
<rect x="522" y="598" width="1" height="5" fill="#000"/>
<rect x="542" y="601" width="1" height="2" fill="#c8c8c8"/>
<rect x="563" y="601" width="1" height="2" fill="#c8c8c8"/>
<rect x="583" y="601" width="1" height="2" fill="#c8c8c8"/>
<rect x="604" y="601" width="1" height="2" fill="#c8c8c8"/>
<rect x="625" y="598" width="1" height="5" fill="#000"/>
<rect x="645" y="601" width="1" height="2" fill="#c8c8c8"/>
<rect x="666" y="601" width="1" height="2" fill="#c8c8c8"/>
<rect x="686" y="601" width="1" height="2" fill="#c8c8c8"/>
<rect x="707" y="601" width="1" height="2" fill="#c8c8c8"/>
<rect x="727" y="598" width="1" height="5" fill="#000"/>
<rect x="748" y="601" width="1" height="2" fill="#c8c8c8"/>
<rect x="769" y="601" width="1" height="2" fill="#c8c8c8"/>
<rect x="789" y="601" width="1" height="2" fill="#c8c8c8"/>
<rect x="810" y="601" width="1" height="2" fill="#c8c8c8"/>
<rect x="830" y="598" width="1" height="5" fill="#000"/>
<rect x="851" y="601" width="1" height="2" fill="#c8c8c8"/>
<rect x="872" y="601" width="1" height="2" fill="#c8c8c8"/>
<rect x="892" y="601" width="1" height="2" fill="#c8c8c8"/>
<rect x="913" y="601" width="1" height="2" fill="#c8c8c8"/>
<rect x="933" y="598" width="1" height="5" fill="#000"/>
<rect x="954" y="601" width="1" height="2" fill="#c8c8c8"/>
<rect x="975" y="601" width="1" height="2" fill="#c8c8c8"/>
<rect x="995" y="601" width="1" height="2" fill="#c8c8c8"/>
<rect x="1016" y="601" width="1" height="2" fill="#c8c8c8"/>
<rect x="1036" y="598" width="1" height="5" fill="#000"/>
<rect x="1057" y="601" width="1" height="2" fill="#c8c8c8"/>
<rect x="1077" y="601" width="1" height="2" fill="#c8c8c8"/>
<rect x="1098" y="601" width="1" height="2" fill="#c8c8c8"/>
<rect x="1119" y="601" width="1" height="2" fill="#c8c8c8"/>
<rect x="1139" y="598" width="1" height="5" fill="#000"/>
<text x="111.5" y="613" font-size="11" fill="#202020" text-anchor="middle" textLength="30.55" lengthAdjust="spacingAndGlyphs">9 Oct</text>
<text x="214.5" y="613" font-size="11" fill="#202020" text-anchor="middle" textLength="37.79" lengthAdjust="spacingAndGlyphs">16 Oct</text>
<text x="317.5" y="613" font-size="11" fill="#202020" text-anchor="middle" textLength="37.79" lengthAdjust="spacingAndGlyphs">23 Oct</text>
<text x="420.5" y="613" font-size="11" fill="#202020" text-anchor="middle" textLength="37.79" lengthAdjust="spacingAndGlyphs">30 Oct</text>
<text x="523.5" y="613" font-size="11" fill="#202020" text-anchor="middle" textLength="33.08" lengthAdjust="spacingAndGlyphs">6 Nov</text>
<text x="626.5" y="613" font-size="11" fill="#202020" text-anchor="middle" textLength="40.33" lengthAdjust="spacingAndGlyphs">13 Nov</text>
<text x="728.5" y="613" font-size="11" fill="#202020" text-anchor="middle" textLength="40.33" lengthAdjust="spacingAndGlyphs">20 Nov</text>
<text x="831.5" y="613" font-size="11" fill="#202020" text-anchor="middle" textLength="40.33" lengthAdjust="spacingAndGlyphs">27 Nov</text>
<text x="934.5" y="614" font-size="11" fill="#202020" text-anchor="middle" textLength="32.89" lengthAdjust="spacingAndGlyphs">4 Déc</text>
<text x="1037.5" y="614" font-size="11" fill="#202020" text-anchor="middle" textLength="40.14" lengthAdjust="spacingAndGlyphs">11 Déc</text>
<text x="1140.5" y="614" font-size="11" fill="#202020" text-anchor="middle" textLength="40.14" lengthAdjust="spacingAndGlyphs">18 Déc</text>
<text x="627" y="625" font-size="11" fill="#202020" text-anchor="middle" textLength="277.96" lengthAdjust="spacingAndGlyphs">Date (du 9 Octobre 2015 au 18 Décembre 2015)</text>
<text x="0" y="0" font-size="11" fill="#202020" text-anchor="middle" textLength="72.68" lengthAdjust="spacingAndGlyphs" transform="translate(62.5,330) rotate(-90)">Cours (Euro)</text>
<rect x="551" y="51" width="6" height="6" fill="#dcdcdc"/>
<rect x="550" y="50" width="6" height="6" fill="#de7a7a"/>
<rect x="551" y="51" width="4" height="4" fill="#c86464"/>
<text x="560" y="56" font-size="11" fill="#202020" textLength="56.14" lengthAdjust="spacingAndGlyphs">Support 1</text>
<rect x="620" y="51" width="6" height="6" fill="#dcdcdc"/>
<rect x="619" y="50" width="6" height="6" fill="#ca7a7a"/>
<rect x="620" y="51" width="4" height="4" fill="#b46464"/>
<text x="629" y="56" font-size="11" fill="#202020" textLength="56.14" lengthAdjust="spacingAndGlyphs">Support 2</text>
<rect x="689" y="51" width="6" height="6" fill="#dcdcdc"/>
<rect x="688" y="50" width="6" height="6" fill="#7ade7a"/>
<rect x="689" y="51" width="4" height="4" fill="#64c864"/>
<text x="698" y="58" font-size="11" fill="#202020" textLength="73.08" lengthAdjust="spacingAndGlyphs">Résistance 1</text>
<rect x="774" y="51" width="6" height="6" fill="#dcdcdc"/>
<rect x="773" y="50" width="6" height="6" fill="#70b670"/>
<rect x="774" y="51" width="4" height="4" fill="#5aa05a"/>
<text x="782" y="58" font-size="11" fill="#202020" textLength="73.08" lengthAdjust="spacingAndGlyphs">Résistance 2</text>
<rect x="859" y="51" width="6" height="6" fill="#dcdcdc"/>
<rect x="858" y="50" width="6" height="6" fill="#7a7aff"/>
<rect x="859" y="51" width="4" height="4" fill="#6464ff"/>
<text x="868" y="56" font-size="11" fill="#202020">MM20</text>
<rect x="904" y="51" width="6" height="6" fill="#dcdcdc"/>
<rect x="903" y="50" width="6" height="6" fill="#be7aff"/>
<rect x="904" y="51" width="4" height="4" fill="#a864ff"/>
<text x="913" y="56" font-size="11" fill="#202020">MM50</text>
<rect x="949" y="51" width="6" height="6" fill="#dcdcdc"/>
<rect x="948" y="50" width="6" height="6" fill="#ff7aff"/>
<rect x="949" y="51" width="4" height="4" fill="#ff64ff"/>
<text x="958" y="56" font-size="11" fill="#202020">MM100</text>
<text x="110.5" y="695" font-size="24" fill="#000" textLength="56.6" lengthAdjust="spacingAndGlyphs">EDF:</text>
<text x="175.7" y="695" font-size="24" fill="#000">graphique</text>
<text x="303.8" y="695" font-size="24" fill="#000">du</text>
<text x="341" y="695" font-size="24" fill="#000" textLength="87.5" lengthAdjust="spacingAndGlyphs">volume</text>
<text x="437.7" y="695" font-size="24" fill="#000">-</text>
<text x="455.9" y="695" font-size="24" fill="#000">AnalyBourse.com</text>
<rect x="102" y="726" width="1049" height="29" fill="#f9f9f9"/>
<rect x="102" y="784" width="1049" height="29" fill="#f9f9f9"/>
<rect x="102" y="842" width="1049" height="29" fill="#f9f9f9"/>
<line x1="130.5" y1="725" x2="130.5" y2="900" stroke="#f3f3f3" stroke-dasharray="6,6" stroke-dashoffset="1"/>
<line x1="151.5" y1="725" x2="151.5" y2="900" stroke="#f3f3f3" stroke-dasharray="6,6" stroke-dashoffset="1"/>
<line x1="172.5" y1="725" x2="172.5" y2="900" stroke="#f3f3f3" stroke-dasharray="6,6" stroke-dashoffset="1"/>
<line x1="192.5" y1="725" x2="192.5" y2="900" stroke="#f3f3f3" stroke-dasharray="6,6" stroke-dashoffset="1"/>
<line x1="233.5" y1="725" x2="233.5" y2="900" stroke="#f3f3f3" stroke-dasharray="6,6" stroke-dashoffset="1"/>
<line x1="254.5" y1="725" x2="254.5" y2="900" stroke="#f3f3f3" stroke-dasharray="6,6" stroke-dashoffset="1"/>
<line x1="275.5" y1="725" x2="275.5" y2="900" stroke="#f3f3f3" stroke-dasharray="6,6" stroke-dashoffset="1"/>
<line x1="295.5" y1="725" x2="295.5" y2="900" stroke="#f3f3f3" stroke-dasharray="6,6" stroke-dashoffset="1"/>
<line x1="336.5" y1="725" x2="336.5" y2="900" stroke="#f3f3f3" stroke-dasharray="6,6" stroke-dashoffset="1"/>
<line x1="357.5" y1="725" x2="357.5" y2="900" stroke="#f3f3f3" stroke-dasharray="6,6" stroke-dashoffset="1"/>
<line x1="377.5" y1="725" x2="377.5" y2="900" stroke="#f3f3f3" stroke-dasharray="6,6" stroke-dashoffset="1"/>
<line x1="398.5" y1="725" x2="398.5" y2="900" stroke="#f3f3f3" stroke-dasharray="6,6" stroke-dashoffset="1"/>
<line x1="439.5" y1="725" x2="439.5" y2="900" stroke="#f3f3f3" stroke-dasharray="6,6" stroke-dashoffset="1"/>
<line x1="460.5" y1="725" x2="460.5" y2="900" stroke="#f3f3f3" stroke-dasharray="6,6" stroke-dashoffset="1"/>
<line x1="480.5" y1="725" x2="480.5" y2="900" stroke="#f3f3f3" stroke-dasharray="6,6" stroke-dashoffset="1"/>
<line x1="501.5" y1="725" x2="501.5" y2="900" stroke="#f3f3f3" stroke-dasharray="6,6" stroke-dashoffset="1"/>
<line x1="542.5" y1="725" x2="542.5" y2="900" stroke="#f3f3f3" stroke-dasharray="6,6" stroke-dashoffset="1"/>
<line x1="563.5" y1="725" x2="563.5" y2="900" stroke="#f3f3f3" stroke-dasharray="6,6" stroke-dashoffset="1"/>
<line x1="583.5" y1="725" x2="583.5" y2="900" stroke="#f3f3f3" stroke-dasharray="6,6" stroke-dashoffset="1"/>
<line x1="604.5" y1="725" x2="604.5" y2="900" stroke="#f3f3f3" stroke-dasharray="6,6" stroke-dashoffset="1"/>
<line x1="645.5" y1="725" x2="645.5" y2="900" stroke="#f3f3f3" stroke-dasharray="6,6" stroke-dashoffset="1"/>
<line x1="666.5" y1="725" x2="666.5" y2="900" stroke="#f3f3f3" stroke-dasharray="6,6" stroke-dashoffset="1"/>
<line x1="686.5" y1="725" x2="686.5" y2="900" stroke="#f3f3f3" stroke-dasharray="6,6" stroke-dashoffset="1"/>
<line x1="707.5" y1="725" x2="707.5" y2="900" stroke="#f3f3f3" stroke-dasharray="6,6" stroke-dashoffset="1"/>
<line x1="748.5" y1="725" x2="748.5" y2="900" stroke="#f3f3f3" stroke-dasharray="6,6" stroke-dashoffset="1"/>
<line x1="769.5" y1="725" x2="769.5" y2="900" stroke="#f3f3f3" stroke-dasharray="6,6" stroke-dashoffset="1"/>
<line x1="789.5" y1="725" x2="789.5" y2="900" stroke="#f3f3f3" stroke-dasharray="6,6" stroke-dashoffset="1"/>
<line x1="810.5" y1="725" x2="810.5" y2="900" stroke="#f3f3f3" stroke-dasharray="6,6" stroke-dashoffset="1"/>
<line x1="851.5" y1="725" x2="851.5" y2="900" stroke="#f3f3f3" stroke-dasharray="6,6" stroke-dashoffset="1"/>
<line x1="872.5" y1="725" x2="872.5" y2="900" stroke="#f3f3f3" stroke-dasharray="6,6" stroke-dashoffset="1"/>
<line x1="892.5" y1="725" x2="892.5" y2="900" stroke="#f3f3f3" stroke-dasharray="6,6" stroke-dashoffset="1"/>
<line x1="913.5" y1="725" x2="913.5" y2="900" stroke="#f3f3f3" stroke-dasharray="6,6" stroke-dashoffset="1"/>
<line x1="954.5" y1="725" x2="954.5" y2="900" stroke="#f3f3f3" stroke-dasharray="6,6" stroke-dashoffset="1"/>
<line x1="975.5" y1="725" x2="975.5" y2="900" stroke="#f3f3f3" stroke-dasharray="6,6" stroke-dashoffset="1"/>
<line x1="995.5" y1="725" x2="995.5" y2="900" stroke="#f3f3f3" stroke-dasharray="6,6" stroke-dashoffset="1"/>
<line x1="1016.5" y1="725" x2="1016.5" y2="900" stroke="#f3f3f3" stroke-dasharray="6,6" stroke-dashoffset="1"/>
<line x1="1057.5" y1="725" x2="1057.5" y2="900" stroke="#f3f3f3" stroke-dasharray="6,6" stroke-dashoffset="1"/>
<line x1="1077.5" y1="725" x2="1077.5" y2="900" stroke="#f3f3f3" stroke-dasharray="6,6" stroke-dashoffset="1"/>
<line x1="1098.5" y1="725" x2="1098.5" y2="900" stroke="#f3f3f3" stroke-dasharray="6,6" stroke-dashoffset="1"/>
<line x1="1119.5" y1="725" x2="1119.5" y2="900" stroke="#f3f3f3" stroke-dasharray="6,6" stroke-dashoffset="1"/>
<line x1="107" y1="725.5" x2="1151" y2="725.5" stroke="#e2e2e2" stroke-dasharray="4,4"/>
<line x1="107" y1="754.5" x2="1151" y2="754.5" stroke="#e2e2e2" stroke-dasharray="4,4"/>
<line x1="107" y1="783.5" x2="1151" y2="783.5" stroke="#e2e2e2" stroke-dasharray="4,4"/>
<line x1="107" y1="812.5" x2="1151" y2="812.5" stroke="#e2e2e2" stroke-dasharray="4,4"/>
<line x1="107" y1="841.5" x2="1151" y2="841.5" stroke="#e2e2e2" stroke-dasharray="4,4"/>
<line x1="107" y1="870.5" x2="1151" y2="870.5" stroke="#e2e2e2" stroke-dasharray="4,4"/>
<line x1="110.5" y1="725" x2="110.5" y2="900" stroke="#dcdcdc" stroke-dasharray="4,4" stroke-dashoffset="1"/>
<line x1="213.5" y1="725" x2="213.5" y2="900" stroke="#dcdcdc" stroke-dasharray="4,4" stroke-dashoffset="1"/>
<line x1="316.5" y1="725" x2="316.5" y2="900" stroke="#dcdcdc" stroke-dasharray="4,4" stroke-dashoffset="1"/>
<line x1="419.5" y1="725" x2="419.5" y2="900" stroke="#dcdcdc" stroke-dasharray="4,4" stroke-dashoffset="1"/>
<line x1="522.5" y1="725" x2="522.5" y2="900" stroke="#dcdcdc" stroke-dasharray="4,4" stroke-dashoffset="1"/>
<line x1="625.5" y1="725" x2="625.5" y2="900" stroke="#dcdcdc" stroke-dasharray="4,4" stroke-dashoffset="1"/>
<line x1="727.5" y1="725" x2="727.5" y2="900" stroke="#dcdcdc" stroke-dasharray="4,4" stroke-dashoffset="1"/>
<line x1="830.5" y1="725" x2="830.5" y2="900" stroke="#dcdcdc" stroke-dasharray="4,4" stroke-dashoffset="1"/>
<line x1="933.5" y1="725" x2="933.5" y2="900" stroke="#dcdcdc" stroke-dasharray="4,4" stroke-dashoffset="1"/>
<line x1="1036.5" y1="725" x2="1036.5" y2="900" stroke="#dcdcdc" stroke-dasharray="4,4" stroke-dashoffset="1"/>
<line x1="1139.5" y1="725" x2="1139.5" y2="900" stroke="#dcdcdc" stroke-dasharray="4,4" stroke-dashoffset="1"/>
<rect x="103" y="854" width="15" height="46" fill="#00ff00" fill-opacity="0.65"/>
<rect x="124" y="855" width="14" height="45" fill="#00ff00" fill-opacity="0.65"/>
<rect x="144" y="873" width="15" height="27" fill="#ff0000" fill-opacity="0.65"/>
<rect x="165" y="872" width="14" height="28" fill="#00ff00" fill-opacity="0.65"/>
<rect x="185" y="877" width="15" height="23" fill="#ff0000" fill-opacity="0.65"/>
<rect x="206" y="869" width="14" height="31" fill="#00ff00" fill-opacity="0.65"/>
<rect x="226" y="882" width="15" height="18" fill="#ff0000" fill-opacity="0.65"/>
<rect x="247" y="880" width="15" height="20" fill="#00ff00" fill-opacity="0.65"/>
<rect x="268" y="880" width="14" height="20" fill="#00ff00" fill-opacity="0.65"/>
<rect x="288" y="877" width="15" height="23" fill="#00ff00" fill-opacity="0.65"/>
<rect x="309" y="869" width="14" height="31" fill="#ff0000" fill-opacity="0.65"/>
<rect x="329" y="885" width="15" height="15" fill="#ff0000" fill-opacity="0.65"/>
<rect x="350" y="876" width="15" height="24" fill="#ff0000" fill-opacity="0.65"/>
<rect x="371" y="871" width="14" height="29" fill="#ff0000" fill-opacity="0.65"/>
<rect x="391" y="872" width="15" height="28" fill="#ff0000" fill-opacity="0.65"/>
<rect x="412" y="876" width="14" height="24" fill="#00ff00" fill-opacity="0.65"/>
<rect x="432" y="873" width="15" height="27" fill="#00ff00" fill-opacity="0.65"/>
<rect x="453" y="873" width="15" height="27" fill="#00ff00" fill-opacity="0.65"/>
<rect x="474" y="873" width="14" height="27" fill="#00ff00" fill-opacity="0.65"/>
<rect x="494" y="798" width="15" height="102" fill="#ff0000" fill-opacity="0.65"/>
<rect x="515" y="833" width="14" height="67" fill="#ff0000" fill-opacity="0.65"/>
<rect x="535" y="862" width="15" height="38" fill="#ff0000" fill-opacity="0.65"/>
<rect x="556" y="854" width="14" height="46" fill="#ff0000" fill-opacity="0.65"/>
<rect x="576" y="855" width="15" height="45" fill="#ff0000" fill-opacity="0.65"/>
<rect x="597" y="862" width="15" height="38" fill="#ff0000" fill-opacity="0.65"/>
<rect x="618" y="864" width="14" height="36" fill="#ff0000" fill-opacity="0.65"/>
<rect x="638" y="856" width="15" height="44" fill="#ff0000" fill-opacity="0.65"/>
<rect x="659" y="849" width="14" height="51" fill="#00ff00" fill-opacity="0.65"/>
<rect x="679" y="866" width="15" height="34" fill="#00ff00" fill-opacity="0.65"/>
<rect x="700" y="866" width="15" height="34" fill="#ff0000" fill-opacity="0.65"/>
<rect x="721" y="848" width="14" height="52" fill="#ff0000" fill-opacity="0.65"/>
<rect x="741" y="866" width="15" height="34" fill="#ff0000" fill-opacity="0.65"/>
<rect x="762" y="857" width="14" height="43" fill="#ff0000" fill-opacity="0.65"/>
<rect x="782" y="854" width="15" height="46" fill="#00ff00" fill-opacity="0.65"/>
<rect x="803" y="866" width="15" height="34" fill="#00ff00" fill-opacity="0.65"/>
<rect x="824" y="871" width="14" height="29" fill="#ff0000" fill-opacity="0.65"/>
<rect x="844" y="862" width="15" height="38" fill="#ff0000" fill-opacity="0.65"/>
<rect x="865" y="866" width="14" height="34" fill="#ff0000" fill-opacity="0.65"/>
<rect x="885" y="870" width="15" height="30" fill="#ff0000" fill-opacity="0.65"/>
<rect x="906" y="840" width="14" height="60" fill="#ff0000" fill-opacity="0.65"/>
<rect x="926" y="844" width="15" height="56" fill="#ff0000" fill-opacity="0.65"/>
<rect x="947" y="869" width="15" height="31" fill="#ff0000" fill-opacity="0.65"/>
<rect x="968" y="840" width="14" height="60" fill="#ff0000" fill-opacity="0.65"/>
<rect x="988" y="829" width="15" height="71" fill="#ff0000" fill-opacity="0.65"/>
<rect x="1009" y="787" width="14" height="113" fill="#00ff00" fill-opacity="0.65"/>
<rect x="1029" y="846" width="15" height="54" fill="#ff0000" fill-opacity="0.65"/>
<rect x="1050" y="851" width="15" height="49" fill="#ff0000" fill-opacity="0.65"/>
<rect x="1071" y="862" width="14" height="38" fill="#00ff00" fill-opacity="0.65"/>
<rect x="1091" y="866" width="15" height="34" fill="#00ff00" fill-opacity="0.65"/>
<rect x="1112" y="860" width="14" height="40" fill="#ff0000" fill-opacity="0.65"/>
<rect x="1132" y="738" width="15" height="162" fill="#00ff00" fill-opacity="0.65"/>
<rect x="100" y="718" width="1" height="183" fill="#1e1e1e"/>
<rect x="100" y="713" width="1" height="1" fill="#000"/>
<rect x="99" y="714" width="3" height="2" fill="#000"/>
<rect x="98" y="716" width="5" height="2" fill="#000"/>
<rect x="97" y="718" width="7" height="2" fill="#000"/>
<rect x="100" y="900" width="1063" height="1" fill="#000"/>
<rect x="1155" y="897" width="2" height="7" fill="#000"/>
<rect x="1157" y="898" width="2" height="5" fill="#000"/>
<rect x="1159" y="899" width="2" height="3" fill="#000"/>
<rect x="98" y="725" width="5" height="1" fill="#000"/>
<rect x="98" y="754" width="5" height="1" fill="#000"/>
<rect x="98" y="783" width="5" height="1" fill="#000"/>
<rect x="98" y="812" width="5" height="1" fill="#000"/>
<rect x="98" y="841" width="5" height="1" fill="#000"/>
<rect x="98" y="870" width="5" height="1" fill="#000"/>
<rect x="98" y="900" width="5" height="1" fill="#000"/>
<rect x="98" y="739" width="3" height="1" fill="#ff0000"/>
<rect x="98" y="768" width="3" height="1" fill="#ff0000"/>
<rect x="98" y="797" width="3" height="1" fill="#ff0000"/>
<rect x="98" y="827" width="3" height="1" fill="#ff0000"/>
<rect x="98" y="856" width="3" height="1" fill="#ff0000"/>
<rect x="98" y="885" width="3" height="1" fill="#ff0000"/>
<text x="99" y="729" font-size="11" fill="#202020" text-anchor="end" textLength="83.69" lengthAdjust="spacingAndGlyphs">12,000,000.00</text>
<text x="99" y="758" font-size="11" fill="#202020" text-anchor="end" textLength="83.69" lengthAdjust="spacingAndGlyphs">10,000,000.00</text>
<text x="99" y="787" font-size="11" fill="#202020" text-anchor="end" textLength="76.42" lengthAdjust="spacingAndGlyphs">8,000,000.00</text>
<text x="99" y="816" font-size="11" fill="#202020" text-anchor="end" textLength="76.42" lengthAdjust="spacingAndGlyphs">6,000,000.00</text>
<text x="99" y="845" font-size="11" fill="#202020" text-anchor="end" textLength="76.42" lengthAdjust="spacingAndGlyphs">4,000,000.00</text>
<text x="99" y="874" font-size="11" fill="#202020" text-anchor="end" textLength="76.42" lengthAdjust="spacingAndGlyphs">2,000,000.00</text>
<text x="99" y="905" font-size="11" fill="#202020" text-anchor="end" textLength="24.98" lengthAdjust="spacingAndGlyphs">0.00</text>
<rect x="110" y="898" width="1" height="5" fill="#000"/>
<rect x="130" y="901" width="1" height="2" fill="#c8c8c8"/>
<rect x="151" y="901" width="1" height="2" fill="#c8c8c8"/>
<rect x="172" y="901" width="1" height="2" fill="#c8c8c8"/>
<rect x="192" y="901" width="1" height="2" fill="#c8c8c8"/>
<rect x="213" y="898" width="1" height="5" fill="#000"/>
<rect x="233" y="901" width="1" height="2" fill="#c8c8c8"/>
<rect x="254" y="901" width="1" height="2" fill="#c8c8c8"/>
<rect x="275" y="901" width="1" height="2" fill="#c8c8c8"/>
<rect x="295" y="901" width="1" height="2" fill="#c8c8c8"/>
<rect x="316" y="898" width="1" height="5" fill="#000"/>
<rect x="336" y="901" width="1" height="2" fill="#c8c8c8"/>
<rect x="357" y="901" width="1" height="2" fill="#c8c8c8"/>
<rect x="377" y="901" width="1" height="2" fill="#c8c8c8"/>
<rect x="398" y="901" width="1" height="2" fill="#c8c8c8"/>
<rect x="419" y="898" width="1" height="5" fill="#000"/>
<rect x="439" y="901" width="1" height="2" fill="#c8c8c8"/>
<rect x="460" y="901" width="1" height="2" fill="#c8c8c8"/>
<rect x="480" y="901" width="1" height="2" fill="#c8c8c8"/>
<rect x="501" y="901" width="1" height="2" fill="#c8c8c8"/>
<rect x="522" y="898" width="1" height="5" fill="#000"/>
<rect x="542" y="901" width="1" height="2" fill="#c8c8c8"/>
<rect x="563" y="901" width="1" height="2" fill="#c8c8c8"/>
<rect x="583" y="901" width="1" height="2" fill="#c8c8c8"/>
<rect x="604" y="901" width="1" height="2" fill="#c8c8c8"/>
<rect x="625" y="898" width="1" height="5" fill="#000"/>
<rect x="645" y="901" width="1" height="2" fill="#c8c8c8"/>
<rect x="666" y="901" width="1" height="2" fill="#c8c8c8"/>
<rect x="686" y="901" width="1" height="2" fill="#c8c8c8"/>
<rect x="707" y="901" width="1" height="2" fill="#c8c8c8"/>
<rect x="727" y="898" width="1" height="5" fill="#000"/>
<rect x="748" y="901" width="1" height="2" fill="#c8c8c8"/>
<rect x="769" y="901" width="1" height="2" fill="#c8c8c8"/>
<rect x="789" y="901" width="1" height="2" fill="#c8c8c8"/>
<rect x="810" y="901" width="1" height="2" fill="#c8c8c8"/>
<rect x="830" y="898" width="1" height="5" fill="#000"/>
<rect x="851" y="901" width="1" height="2" fill="#c8c8c8"/>
<rect x="872" y="901" width="1" height="2" fill="#c8c8c8"/>
<rect x="892" y="901" width="1" height="2" fill="#c8c8c8"/>
<rect x="913" y="901" width="1" height="2" fill="#c8c8c8"/>
<rect x="933" y="898" width="1" height="5" fill="#000"/>
<rect x="954" y="901" width="1" height="2" fill="#c8c8c8"/>
<rect x="975" y="901" width="1" height="2" fill="#c8c8c8"/>
<rect x="995" y="901" width="1" height="2" fill="#c8c8c8"/>
<rect x="1016" y="901" width="1" height="2" fill="#c8c8c8"/>
<rect x="1036" y="898" width="1" height="5" fill="#000"/>
<rect x="1057" y="901" width="1" height="2" fill="#c8c8c8"/>
<rect x="1077" y="901" width="1" height="2" fill="#c8c8c8"/>
<rect x="1098" y="901" width="1" height="2" fill="#c8c8c8"/>
<rect x="1119" y="901" width="1" height="2" fill="#c8c8c8"/>
<rect x="1139" y="898" width="1" height="5" fill="#000"/>
<text x="111.5" y="913" font-size="11" fill="#202020" text-anchor="middle" textLength="30.55" lengthAdjust="spacingAndGlyphs">9 Oct</text>
<text x="214.5" y="913" font-size="11" fill="#202020" text-anchor="middle" textLength="37.79" lengthAdjust="spacingAndGlyphs">16 Oct</text>
<text x="317.5" y="913" font-size="11" fill="#202020" text-anchor="middle" textLength="37.79" lengthAdjust="spacingAndGlyphs">23 Oct</text>
<text x="420.5" y="913" font-size="11" fill="#202020" text-anchor="middle" textLength="37.79" lengthAdjust="spacingAndGlyphs">30 Oct</text>
<text x="523.5" y="913" font-size="11" fill="#202020" text-anchor="middle" textLength="33.08" lengthAdjust="spacingAndGlyphs">6 Nov</text>
<text x="626.5" y="913" font-size="11" fill="#202020" text-anchor="middle" textLength="40.33" lengthAdjust="spacingAndGlyphs">13 Nov</text>
<text x="728.5" y="913" font-size="11" fill="#202020" text-anchor="middle" textLength="40.33" lengthAdjust="spacingAndGlyphs">20 Nov</text>
<text x="831.5" y="913" font-size="11" fill="#202020" text-anchor="middle" textLength="40.33" lengthAdjust="spacingAndGlyphs">27 Nov</text>
<text x="934.5" y="914" font-size="11" fill="#202020" text-anchor="middle" textLength="32.89" lengthAdjust="spacingAndGlyphs">4 Déc</text>
<text x="1037.5" y="914" font-size="11" fill="#202020" text-anchor="middle" textLength="40.14" lengthAdjust="spacingAndGlyphs">11 Déc</text>
<text x="1140.5" y="914" font-size="11" fill="#202020" text-anchor="middle" textLength="40.14" lengthAdjust="spacingAndGlyphs">18 Déc</text>
<text x="627" y="925" font-size="11" fill="#202020" text-anchor="middle" textLength="277.96" lengthAdjust="spacingAndGlyphs">Date (du 9 Octobre 2015 au 18 Décembre 2015)</text>
<text x="0" y="0" font-size="11" fill="#202020" text-anchor="middle" transform="translate(15.5,810.5) rotate(-90)">Volume</text>
<text x="110.5" y="995" font-size="24" fill="#000" textLength="56.6" lengthAdjust="spacingAndGlyphs">EDF:</text>
<text x="175.7" y="995" font-size="24" fill="#000">graphique</text>
<text x="303.8" y="995" font-size="24" fill="#000">du</text>
<text x="339.7" y="995" font-size="24" fill="#000" textLength="46.0" lengthAdjust="spacingAndGlyphs">RSI</text>
<text x="393.9" y="995" font-size="24" fill="#000">-</text>
<text x="409.8" y="995" font-size="24" fill="#000" textLength="99.7" lengthAdjust="spacingAndGlyphs">RSI(14)</text>
<text x="516.4" y="995" font-size="24" fill="#000">-</text>
<text x="533.3" y="995" font-size="24" fill="#000">AnalyBourse.com</text>
<rect x="102" y="1061" width="1049" height="35" fill="#f9f9f9"/>
<rect x="102" y="1131" width="1049" height="35" fill="#f9f9f9"/>
<line x1="130.5" y1="1025" x2="130.5" y2="1200" stroke="#f3f3f3" stroke-dasharray="6,6" stroke-dashoffset="1"/>
<line x1="151.5" y1="1025" x2="151.5" y2="1200" stroke="#f3f3f3" stroke-dasharray="6,6" stroke-dashoffset="1"/>
<line x1="172.5" y1="1025" x2="172.5" y2="1200" stroke="#f3f3f3" stroke-dasharray="6,6" stroke-dashoffset="1"/>
<line x1="192.5" y1="1025" x2="192.5" y2="1200" stroke="#f3f3f3" stroke-dasharray="6,6" stroke-dashoffset="1"/>
<line x1="233.5" y1="1025" x2="233.5" y2="1200" stroke="#f3f3f3" stroke-dasharray="6,6" stroke-dashoffset="1"/>
<line x1="254.5" y1="1025" x2="254.5" y2="1200" stroke="#f3f3f3" stroke-dasharray="6,6" stroke-dashoffset="1"/>
<line x1="275.5" y1="1025" x2="275.5" y2="1200" stroke="#f3f3f3" stroke-dasharray="6,6" stroke-dashoffset="1"/>
<line x1="295.5" y1="1025" x2="295.5" y2="1200" stroke="#f3f3f3" stroke-dasharray="6,6" stroke-dashoffset="1"/>
<line x1="336.5" y1="1025" x2="336.5" y2="1200" stroke="#f3f3f3" stroke-dasharray="6,6" stroke-dashoffset="1"/>
<line x1="357.5" y1="1025" x2="357.5" y2="1200" stroke="#f3f3f3" stroke-dasharray="6,6" stroke-dashoffset="1"/>
<line x1="377.5" y1="1025" x2="377.5" y2="1200" stroke="#f3f3f3" stroke-dasharray="6,6" stroke-dashoffset="1"/>
<line x1="398.5" y1="1025" x2="398.5" y2="1200" stroke="#f3f3f3" stroke-dasharray="6,6" stroke-dashoffset="1"/>
<line x1="439.5" y1="1025" x2="439.5" y2="1200" stroke="#f3f3f3" stroke-dasharray="6,6" stroke-dashoffset="1"/>
<line x1="460.5" y1="1025" x2="460.5" y2="1200" stroke="#f3f3f3" stroke-dasharray="6,6" stroke-dashoffset="1"/>
<line x1="480.5" y1="1025" x2="480.5" y2="1200" stroke="#f3f3f3" stroke-dasharray="6,6" stroke-dashoffset="1"/>
<line x1="501.5" y1="1025" x2="501.5" y2="1200" stroke="#f3f3f3" stroke-dasharray="6,6" stroke-dashoffset="1"/>
<line x1="542.5" y1="1025" x2="542.5" y2="1200" stroke="#f3f3f3" stroke-dasharray="6,6" stroke-dashoffset="1"/>
<line x1="563.5" y1="1025" x2="563.5" y2="1200" stroke="#f3f3f3" stroke-dasharray="6,6" stroke-dashoffset="1"/>
<line x1="583.5" y1="1025" x2="583.5" y2="1200" stroke="#f3f3f3" stroke-dasharray="6,6" stroke-dashoffset="1"/>
<line x1="604.5" y1="1025" x2="604.5" y2="1200" stroke="#f3f3f3" stroke-dasharray="6,6" stroke-dashoffset="1"/>
<line x1="645.5" y1="1025" x2="645.5" y2="1200" stroke="#f3f3f3" stroke-dasharray="6,6" stroke-dashoffset="1"/>
<line x1="666.5" y1="1025" x2="666.5" y2="1200" stroke="#f3f3f3" stroke-dasharray="6,6" stroke-dashoffset="1"/>
<line x1="686.5" y1="1025" x2="686.5" y2="1200" stroke="#f3f3f3" stroke-dasharray="6,6" stroke-dashoffset="1"/>
<line x1="707.5" y1="1025" x2="707.5" y2="1200" stroke="#f3f3f3" stroke-dasharray="6,6" stroke-dashoffset="1"/>
<line x1="748.5" y1="1025" x2="748.5" y2="1200" stroke="#f3f3f3" stroke-dasharray="6,6" stroke-dashoffset="1"/>
<line x1="769.5" y1="1025" x2="769.5" y2="1200" stroke="#f3f3f3" stroke-dasharray="6,6" stroke-dashoffset="1"/>
<line x1="789.5" y1="1025" x2="789.5" y2="1200" stroke="#f3f3f3" stroke-dasharray="6,6" stroke-dashoffset="1"/>
<line x1="810.5" y1="1025" x2="810.5" y2="1200" stroke="#f3f3f3" stroke-dasharray="6,6" stroke-dashoffset="1"/>
<line x1="851.5" y1="1025" x2="851.5" y2="1200" stroke="#f3f3f3" stroke-dasharray="6,6" stroke-dashoffset="1"/>
<line x1="872.5" y1="1025" x2="872.5" y2="1200" stroke="#f3f3f3" stroke-dasharray="6,6" stroke-dashoffset="1"/>
<line x1="892.5" y1="1025" x2="892.5" y2="1200" stroke="#f3f3f3" stroke-dasharray="6,6" stroke-dashoffset="1"/>
<line x1="913.5" y1="1025" x2="913.5" y2="1200" stroke="#f3f3f3" stroke-dasharray="6,6" stroke-dashoffset="1"/>
<line x1="954.5" y1="1025" x2="954.5" y2="1200" stroke="#f3f3f3" stroke-dasharray="6,6" stroke-dashoffset="1"/>
<line x1="975.5" y1="1025" x2="975.5" y2="1200" stroke="#f3f3f3" stroke-dasharray="6,6" stroke-dashoffset="1"/>
<line x1="995.5" y1="1025" x2="995.5" y2="1200" stroke="#f3f3f3" stroke-dasharray="6,6" stroke-dashoffset="1"/>
<line x1="1016.5" y1="1025" x2="1016.5" y2="1200" stroke="#f3f3f3" stroke-dasharray="6,6" stroke-dashoffset="1"/>
<line x1="1057.5" y1="1025" x2="1057.5" y2="1200" stroke="#f3f3f3" stroke-dasharray="6,6" stroke-dashoffset="1"/>
<line x1="1077.5" y1="1025" x2="1077.5" y2="1200" stroke="#f3f3f3" stroke-dasharray="6,6" stroke-dashoffset="1"/>
<line x1="1098.5" y1="1025" x2="1098.5" y2="1200" stroke="#f3f3f3" stroke-dasharray="6,6" stroke-dashoffset="1"/>
<line x1="1119.5" y1="1025" x2="1119.5" y2="1200" stroke="#f3f3f3" stroke-dasharray="6,6" stroke-dashoffset="1"/>
<line x1="107" y1="1025.5" x2="1151" y2="1025.5" stroke="#e2e2e2" stroke-dasharray="4,4"/>
<line x1="107" y1="1060.5" x2="1151" y2="1060.5" stroke="#e2e2e2" stroke-dasharray="4,4"/>
<line x1="107" y1="1095.5" x2="1151" y2="1095.5" stroke="#e2e2e2" stroke-dasharray="4,4"/>
<line x1="107" y1="1130.5" x2="1151" y2="1130.5" stroke="#e2e2e2" stroke-dasharray="4,4"/>
<line x1="107" y1="1165.5" x2="1151" y2="1165.5" stroke="#e2e2e2" stroke-dasharray="4,4"/>
<line x1="110.5" y1="1025" x2="110.5" y2="1200" stroke="#dcdcdc" stroke-dasharray="4,4" stroke-dashoffset="1"/>
<line x1="213.5" y1="1025" x2="213.5" y2="1200" stroke="#dcdcdc" stroke-dasharray="4,4" stroke-dashoffset="1"/>
<line x1="316.5" y1="1025" x2="316.5" y2="1200" stroke="#dcdcdc" stroke-dasharray="4,4" stroke-dashoffset="1"/>
<line x1="419.5" y1="1025" x2="419.5" y2="1200" stroke="#dcdcdc" stroke-dasharray="4,4" stroke-dashoffset="1"/>
<line x1="522.5" y1="1025" x2="522.5" y2="1200" stroke="#dcdcdc" stroke-dasharray="4,4" stroke-dashoffset="1"/>
<line x1="625.5" y1="1025" x2="625.5" y2="1200" stroke="#dcdcdc" stroke-dasharray="4,4" stroke-dashoffset="1"/>
<line x1="727.5" y1="1025" x2="727.5" y2="1200" stroke="#dcdcdc" stroke-dasharray="4,4" stroke-dashoffset="1"/>
<line x1="830.5" y1="1025" x2="830.5" y2="1200" stroke="#dcdcdc" stroke-dasharray="4,4" stroke-dashoffset="1"/>
<line x1="933.5" y1="1025" x2="933.5" y2="1200" stroke="#dcdcdc" stroke-dasharray="4,4" stroke-dashoffset="1"/>
<line x1="1036.5" y1="1025" x2="1036.5" y2="1200" stroke="#dcdcdc" stroke-dasharray="4,4" stroke-dashoffset="1"/>
<line x1="1139.5" y1="1025" x2="1139.5" y2="1200" stroke="#dcdcdc" stroke-dasharray="4,4" stroke-dashoffset="1"/>
<rect x="110" y="1112" width="1030" height="1" fill="#555555" fill-opacity="0.85"/>
<polyline points="110.33,1103.50 112.39,1102.95 114.45,1102.34 116.51,1101.68 118.57,1101.02 120.62,1100.38 122.68,1099.78 124.74,1099.27 126.80,1098.86 128.86,1098.60 130.92,1098.50 132.98,1098.72 135.04,1099.30 137.09,1100.16 139.15,1101.21 141.21,1102.35 143.27,1103.49 145.33,1104.54 147.39,1105.40 149.45,1105.98 151.51,1106.20 153.56,1106.12 155.62,1105.89 157.68,1105.55 159.74,1105.14 161.80,1104.70 163.86,1104.26 165.92,1103.85 167.98,1103.51 170.04,1103.28 172.09,1103.20 174.15,1103.26 176.21,1103.42 178.27,1103.65 180.33,1103.94 182.39,1104.25 184.45,1104.56 186.51,1104.85 188.56,1105.08 190.62,1105.24 192.68,1105.30 194.74,1105.30 196.80,1105.30 198.86,1105.30 200.92,1105.30 202.98,1105.30 205.03,1105.30 207.09,1105.30 209.15,1105.30 211.21,1105.30 213.27,1105.30 215.33,1105.47 217.39,1105.92 219.45,1106.59 221.51,1107.39 223.56,1108.28 225.62,1109.16 227.68,1109.96 229.74,1110.63 231.80,1111.08 233.86,1111.25 235.92,1111.18 237.98,1110.99 240.03,1110.71 242.09,1110.36 244.15,1109.97 246.21,1109.56 248.27,1109.16 250.33,1108.79 252.39,1108.48 254.45,1108.25 256.50,1108.09 258.56,1107.96 260.62,1107.86 262.68,1107.76 264.74,1107.67 266.80,1107.58 268.86,1107.47 270.92,1107.35 272.98,1107.19 275.03,1107.00 277.09,1106.64 279.15,1106.01 281.21,1105.20 283.27,1104.26 285.33,1103.25 287.39,1102.24 289.45,1101.30 291.50,1100.49 293.56,1099.86 295.62,1099.50 297.68,1099.29 299.74,1099.10 301.80,1098.91 303.86,1098.75 305.92,1098.61 307.97,1098.48 310.03,1098.38 312.09,1098.31 314.15,1098.27 316.21,1098.25 318.27,1098.27 320.33,1098.33 322.39,1098.43 324.45,1098.57 326.50,1098.74 328.56,1098.94 330.62,1099.17 332.68,1099.42 334.74,1099.70 336.80,1100.00 338.86,1100.58 340.92,1101.64 342.97,1103.04 345.03,1104.69 347.09,1106.45 349.15,1108.22 351.21,1109.88 353.27,1111.30 355.33,1112.38 357.39,1113.00 359.44,1113.31 361.50,1113.55 363.56,1113.73 365.62,1113.88 367.68,1114.02 369.74,1114.15 371.80,1114.30 373.86,1114.48 375.92,1114.71 377.97,1115.00 380.03,1115.55 382.09,1116.47 384.15,1117.65 386.21,1119.00 388.27,1120.42 390.33,1121.80 392.39,1123.05 394.44,1124.07 396.50,1124.75 398.56,1125.00 400.62,1124.93 402.68,1124.74 404.74,1124.45 406.80,1124.07 408.86,1123.64 410.91,1123.16 412.97,1122.66 415.03,1122.16 417.09,1121.69 419.15,1121.25 421.21,1120.82 423.27,1120.35 425.33,1119.87 427.39,1119.36 429.44,1118.86 431.50,1118.37 433.56,1117.91 435.62,1117.47 437.68,1117.08 439.74,1116.75 441.80,1116.47 443.86,1116.24 445.91,1116.04 447.97,1115.85 450.03,1115.68 452.09,1115.49 454.15,1115.30 456.21,1115.07 458.27,1114.81 460.33,1114.50 462.38,1114.03 464.44,1113.34 466.50,1112.49 468.56,1111.55 470.62,1110.57 472.68,1109.64 474.74,1108.80 476.80,1108.12 478.86,1107.67 480.91,1107.50 482.97,1108.31 485.03,1110.51 487.09,1113.77 489.15,1117.74 491.21,1122.09 493.27,1126.46 495.33,1130.53 497.38,1133.96 499.44,1136.39 501.50,1137.50 503.56,1137.80 505.62,1138.05 507.68,1138.25 509.74,1138.41 511.80,1138.56 513.85,1138.68 515.91,1138.81 517.97,1138.93 520.03,1139.08 522.09,1139.25 524.15,1139.43 526.21,1139.61 528.27,1139.78 530.33,1139.95 532.38,1140.13 534.44,1140.31 536.50,1140.52 538.56,1140.74 540.62,1140.98 542.68,1141.25 544.74,1141.60 546.80,1142.07 548.85,1142.62 550.91,1143.23 552.97,1143.86 555.03,1144.48 557.09,1145.06 559.15,1145.57 561.21,1145.97 563.27,1146.25 565.32,1146.43 567.38,1146.57 569.44,1146.69 571.50,1146.79 573.56,1146.88 575.62,1146.97 577.68,1147.07 579.74,1147.18 581.80,1147.32 583.85,1147.50 585.91,1147.76 587.97,1148.14 590.03,1148.60 592.09,1149.12 594.15,1149.68 596.21,1150.24 598.27,1150.78 600.32,1151.27 602.38,1151.69 604.44,1152.00 606.50,1152.23 608.56,1152.44 610.62,1152.62 612.68,1152.78 614.74,1152.93 616.79,1153.08 618.85,1153.23 620.91,1153.39 622.97,1153.56 625.03,1153.75 627.09,1153.99 629.15,1154.27 631.21,1154.59 633.27,1154.93 635.32,1155.26 637.38,1155.57 639.44,1155.84 641.50,1156.06 643.56,1156.20 645.62,1156.25 647.68,1155.91 649.74,1155.00 651.79,1153.66 653.85,1152.03 655.91,1150.25 657.97,1148.47 660.03,1146.84 662.09,1145.50 664.15,1144.59 666.21,1144.25 668.26,1144.27 670.32,1144.33 672.38,1144.41 674.44,1144.51 676.50,1144.62 678.56,1144.74 680.62,1144.84 682.68,1144.92 684.74,1144.98 686.79,1145.00 688.85,1144.95 690.91,1144.82 692.97,1144.62 695.03,1144.38 697.09,1144.12 699.15,1143.87 701.21,1143.63 703.26,1143.43 705.32,1143.30 707.38,1143.25 709.44,1143.41 711.50,1143.84 713.56,1144.50 715.62,1145.33 717.68,1146.27 719.73,1147.27 721.79,1148.27 723.85,1149.23 725.91,1150.07 727.97,1150.75 730.03,1151.32 732.09,1151.85 734.15,1152.37 736.21,1152.86 738.26,1153.33 740.32,1153.78 742.38,1154.22 744.44,1154.66 746.50,1155.08 748.56,1155.50 750.62,1155.94 752.68,1156.43 754.73,1156.93 756.79,1157.42 758.85,1157.90 760.91,1158.33 762.97,1158.70 765.03,1158.99 767.09,1159.18 769.15,1159.25 771.20,1159.21 773.26,1159.10 775.32,1158.93 777.38,1158.69 779.44,1158.40 781.50,1158.05 783.56,1157.66 785.62,1157.23 787.68,1156.75 789.73,1156.25 791.79,1155.29 793.85,1153.58 795.91,1151.33 797.97,1148.73 800.03,1145.98 802.09,1143.28 804.15,1140.83 806.20,1138.84 808.26,1137.49 810.32,1137.00 812.38,1137.16 814.44,1137.59 816.50,1138.24 818.56,1139.03 820.62,1139.91 822.67,1140.80 824.73,1141.65 826.79,1142.38 828.85,1142.94 830.91,1143.25 832.97,1143.41 835.03,1143.54 837.09,1143.65 839.15,1143.75 841.20,1143.84 843.26,1143.92 845.32,1143.99 847.38,1144.07 849.44,1144.15 851.50,1144.25 853.56,1144.35 855.62,1144.45 857.67,1144.56 859.73,1144.66 861.79,1144.76 863.85,1144.87 865.91,1144.97 867.97,1145.08 870.03,1145.19 872.09,1145.30 874.14,1145.41 876.20,1145.50 878.26,1145.59 880.32,1145.68 882.38,1145.78 884.44,1145.89 886.50,1146.01 888.56,1146.15 890.62,1146.31 892.67,1146.50 894.73,1146.86 896.79,1147.47 898.85,1148.28 900.91,1149.23 902.97,1150.24 905.03,1151.27 907.09,1152.24 909.14,1153.09 911.20,1153.77 913.26,1154.20 915.32,1154.49 917.38,1154.76 919.44,1155.02 921.50,1155.25 923.56,1155.46 925.61,1155.65 927.67,1155.80 929.73,1155.91 931.79,1155.98 933.85,1156.00 935.91,1156.00 937.97,1156.00 940.03,1156.00 942.09,1156.00 944.14,1156.00 946.20,1156.00 948.26,1156.00 950.32,1156.00 952.38,1156.00 954.44,1156.00 956.50,1156.15 958.56,1156.57 960.61,1157.21 962.67,1157.99 964.73,1158.88 966.79,1159.81 968.85,1160.72 970.91,1161.56 972.97,1162.27 975.03,1162.80 977.08,1163.22 979.14,1163.64 981.20,1164.06 983.26,1164.46 985.32,1164.82 987.38,1165.14 989.44,1165.41 991.50,1165.62 993.56,1165.75 995.61,1165.80 997.67,1165.00 999.73,1162.82 1001.79,1159.60 1003.85,1155.70 1005.91,1151.45 1007.97,1147.20 1010.03,1143.30 1012.08,1140.08 1014.14,1137.90 1016.20,1137.10 1018.26,1137.20 1020.32,1137.47 1022.38,1137.89 1024.44,1138.43 1026.50,1139.06 1028.55,1139.75 1030.61,1140.47 1032.67,1141.18 1034.73,1141.87 1036.79,1142.50 1038.85,1143.16 1040.91,1143.93 1042.97,1144.77 1045.03,1145.64 1047.08,1146.49 1049.14,1147.28 1051.20,1147.97 1053.26,1148.51 1055.32,1148.87 1057.38,1149.00 1059.44,1148.80 1061.50,1148.26 1063.55,1147.46 1065.61,1146.47 1067.67,1145.39 1069.73,1144.29 1071.79,1143.25 1073.85,1142.35 1075.91,1141.67 1077.97,1141.30 1080.02,1141.12 1082.08,1140.97 1084.14,1140.83 1086.20,1140.72 1088.26,1140.62 1090.32,1140.53 1092.38,1140.44 1094.44,1140.36 1096.50,1140.28 1098.55,1140.20 1100.61,1140.12 1102.67,1140.06 1104.73,1140.00 1106.79,1139.95 1108.85,1139.89 1110.91,1139.84 1112.97,1139.78 1115.02,1139.70 1117.08,1139.61 1119.14,1139.50 1121.20,1139.32 1123.26,1139.02 1125.32,1138.63 1127.38,1138.17 1129.44,1137.66 1131.49,1137.12 1133.55,1136.56 1135.61,1136.01 1137.67,1135.48 1139.73,1135.00" fill="none" stroke="#ff4444" stroke-width="1" shape-rendering="crispEdges"/>
<rect x="100" y="1018" width="1" height="183" fill="#1e1e1e"/>
<rect x="100" y="1013" width="1" height="1" fill="#000"/>
<rect x="99" y="1014" width="3" height="2" fill="#000"/>
<rect x="98" y="1016" width="5" height="2" fill="#000"/>
<rect x="97" y="1018" width="7" height="2" fill="#000"/>
<rect x="100" y="1200" width="1063" height="1" fill="#000"/>
<rect x="1155" y="1197" width="2" height="7" fill="#000"/>
<rect x="1157" y="1198" width="2" height="5" fill="#000"/>
<rect x="1159" y="1199" width="2" height="3" fill="#000"/>
<rect x="98" y="1025" width="5" height="1" fill="#000"/>
<rect x="98" y="1060" width="5" height="1" fill="#000"/>
<rect x="98" y="1095" width="5" height="1" fill="#000"/>
<rect x="98" y="1130" width="5" height="1" fill="#000"/>
<rect x="98" y="1165" width="5" height="1" fill="#000"/>
<rect x="98" y="1200" width="5" height="1" fill="#000"/>
<rect x="98" y="1042" width="3" height="1" fill="#ff0000"/>
<rect x="98" y="1077" width="3" height="1" fill="#ff0000"/>
<rect x="98" y="1112" width="3" height="1" fill="#ff0000"/>
<rect x="98" y="1147" width="3" height="1" fill="#ff0000"/>
<rect x="98" y="1182" width="3" height="1" fill="#ff0000"/>
<text x="99" y="1030" font-size="11" fill="#202020" text-anchor="end" textLength="39.26" lengthAdjust="spacingAndGlyphs">100.00</text>
<text x="99" y="1065" font-size="11" fill="#202020" text-anchor="end" textLength="32.12" lengthAdjust="spacingAndGlyphs">80.00</text>
<text x="99" y="1100" font-size="11" fill="#202020" text-anchor="end" textLength="32.12" lengthAdjust="spacingAndGlyphs">60.00</text>
<text x="99" y="1135" font-size="11" fill="#202020" text-anchor="end" textLength="32.12" lengthAdjust="spacingAndGlyphs">40.00</text>
<text x="99" y="1170" font-size="11" fill="#202020" text-anchor="end" textLength="32.12" lengthAdjust="spacingAndGlyphs">20.00</text>
<text x="99" y="1205" font-size="11" fill="#202020" text-anchor="end" textLength="24.98" lengthAdjust="spacingAndGlyphs">0.00</text>
<rect x="110" y="1198" width="1" height="5" fill="#000"/>
<rect x="130" y="1201" width="1" height="2" fill="#c8c8c8"/>
<rect x="151" y="1201" width="1" height="2" fill="#c8c8c8"/>
<rect x="172" y="1201" width="1" height="2" fill="#c8c8c8"/>
<rect x="192" y="1201" width="1" height="2" fill="#c8c8c8"/>
<rect x="213" y="1198" width="1" height="5" fill="#000"/>
<rect x="233" y="1201" width="1" height="2" fill="#c8c8c8"/>
<rect x="254" y="1201" width="1" height="2" fill="#c8c8c8"/>
<rect x="275" y="1201" width="1" height="2" fill="#c8c8c8"/>
<rect x="295" y="1201" width="1" height="2" fill="#c8c8c8"/>
<rect x="316" y="1198" width="1" height="5" fill="#000"/>
<rect x="336" y="1201" width="1" height="2" fill="#c8c8c8"/>
<rect x="357" y="1201" width="1" height="2" fill="#c8c8c8"/>
<rect x="377" y="1201" width="1" height="2" fill="#c8c8c8"/>
<rect x="398" y="1201" width="1" height="2" fill="#c8c8c8"/>
<rect x="419" y="1198" width="1" height="5" fill="#000"/>
<rect x="439" y="1201" width="1" height="2" fill="#c8c8c8"/>
<rect x="460" y="1201" width="1" height="2" fill="#c8c8c8"/>
<rect x="480" y="1201" width="1" height="2" fill="#c8c8c8"/>
<rect x="501" y="1201" width="1" height="2" fill="#c8c8c8"/>
<rect x="522" y="1198" width="1" height="5" fill="#000"/>
<rect x="542" y="1201" width="1" height="2" fill="#c8c8c8"/>
<rect x="563" y="1201" width="1" height="2" fill="#c8c8c8"/>
<rect x="583" y="1201" width="1" height="2" fill="#c8c8c8"/>
<rect x="604" y="1201" width="1" height="2" fill="#c8c8c8"/>
<rect x="625" y="1198" width="1" height="5" fill="#000"/>
<rect x="645" y="1201" width="1" height="2" fill="#c8c8c8"/>
<rect x="666" y="1201" width="1" height="2" fill="#c8c8c8"/>
<rect x="686" y="1201" width="1" height="2" fill="#c8c8c8"/>
<rect x="707" y="1201" width="1" height="2" fill="#c8c8c8"/>
<rect x="727" y="1198" width="1" height="5" fill="#000"/>
<rect x="748" y="1201" width="1" height="2" fill="#c8c8c8"/>
<rect x="769" y="1201" width="1" height="2" fill="#c8c8c8"/>
<rect x="789" y="1201" width="1" height="2" fill="#c8c8c8"/>
<rect x="810" y="1201" width="1" height="2" fill="#c8c8c8"/>
<rect x="830" y="1198" width="1" height="5" fill="#000"/>
<rect x="851" y="1201" width="1" height="2" fill="#c8c8c8"/>
<rect x="872" y="1201" width="1" height="2" fill="#c8c8c8"/>
<rect x="892" y="1201" width="1" height="2" fill="#c8c8c8"/>
<rect x="913" y="1201" width="1" height="2" fill="#c8c8c8"/>
<rect x="933" y="1198" width="1" height="5" fill="#000"/>
<rect x="954" y="1201" width="1" height="2" fill="#c8c8c8"/>
<rect x="975" y="1201" width="1" height="2" fill="#c8c8c8"/>
<rect x="995" y="1201" width="1" height="2" fill="#c8c8c8"/>
<rect x="1016" y="1201" width="1" height="2" fill="#c8c8c8"/>
<rect x="1036" y="1198" width="1" height="5" fill="#000"/>
<rect x="1057" y="1201" width="1" height="2" fill="#c8c8c8"/>
<rect x="1077" y="1201" width="1" height="2" fill="#c8c8c8"/>
<rect x="1098" y="1201" width="1" height="2" fill="#c8c8c8"/>
<rect x="1119" y="1201" width="1" height="2" fill="#c8c8c8"/>
<rect x="1139" y="1198" width="1" height="5" fill="#000"/>
<text x="111.5" y="1213" font-size="11" fill="#202020" text-anchor="middle" textLength="30.55" lengthAdjust="spacingAndGlyphs">9 Oct</text>
<text x="214.5" y="1213" font-size="11" fill="#202020" text-anchor="middle" textLength="37.79" lengthAdjust="spacingAndGlyphs">16 Oct</text>
<text x="317.5" y="1213" font-size="11" fill="#202020" text-anchor="middle" textLength="37.79" lengthAdjust="spacingAndGlyphs">23 Oct</text>
<text x="420.5" y="1213" font-size="11" fill="#202020" text-anchor="middle" textLength="37.79" lengthAdjust="spacingAndGlyphs">30 Oct</text>
<text x="523.5" y="1213" font-size="11" fill="#202020" text-anchor="middle" textLength="33.08" lengthAdjust="spacingAndGlyphs">6 Nov</text>
<text x="626.5" y="1213" font-size="11" fill="#202020" text-anchor="middle" textLength="40.33" lengthAdjust="spacingAndGlyphs">13 Nov</text>
<text x="728.5" y="1213" font-size="11" fill="#202020" text-anchor="middle" textLength="40.33" lengthAdjust="spacingAndGlyphs">20 Nov</text>
<text x="831.5" y="1213" font-size="11" fill="#202020" text-anchor="middle" textLength="40.33" lengthAdjust="spacingAndGlyphs">27 Nov</text>
<text x="934.5" y="1214" font-size="11" fill="#202020" text-anchor="middle" textLength="32.89" lengthAdjust="spacingAndGlyphs">4 Déc</text>
<text x="1037.5" y="1214" font-size="11" fill="#202020" text-anchor="middle" textLength="40.14" lengthAdjust="spacingAndGlyphs">11 Déc</text>
<text x="1140.5" y="1214" font-size="11" fill="#202020" text-anchor="middle" textLength="40.14" lengthAdjust="spacingAndGlyphs">18 Déc</text>
<text x="627" y="1225" font-size="11" fill="#202020" text-anchor="middle" textLength="277.96" lengthAdjust="spacingAndGlyphs">Date (du 9 Octobre 2015 au 18 Décembre 2015)</text>
<text x="0" y="0" font-size="11" fill="#202020" text-anchor="middle" textLength="20.55" lengthAdjust="spacingAndGlyphs" transform="translate(58.5,1110) rotate(-90)">RSI</text>
<text x="110.5" y="1295" font-size="24" fill="#000" textLength="56.6" lengthAdjust="spacingAndGlyphs">EDF:</text>
<text x="175.7" y="1295" font-size="24" fill="#000">graphique</text>
<text x="303.8" y="1295" font-size="24" fill="#000">du</text>
<text x="340.1" y="1295" font-size="24" fill="#000" textLength="74.5" lengthAdjust="spacingAndGlyphs">MACD</text>
<text x="423.4" y="1295" font-size="24" fill="#000">-</text>
<text x="440.1" y="1295" font-size="24" fill="#000" textLength="188.2" lengthAdjust="spacingAndGlyphs">MACD(12,26,9)</text>
<text x="636.9" y="1295" font-size="24" fill="#000">-</text>
<text x="654.6" y="1295" font-size="24" fill="#000">AnalyBourse.com</text>
<rect x="102" y="1351" width="1049" height="25" fill="#f9f9f9"/>
<rect x="102" y="1401" width="1049" height="25" fill="#f9f9f9"/>
<rect x="102" y="1451" width="1049" height="25" fill="#f9f9f9"/>
<line x1="130.5" y1="1325" x2="130.5" y2="1500" stroke="#f3f3f3" stroke-dasharray="6,6" stroke-dashoffset="1"/>
<line x1="151.5" y1="1325" x2="151.5" y2="1500" stroke="#f3f3f3" stroke-dasharray="6,6" stroke-dashoffset="1"/>
<line x1="172.5" y1="1325" x2="172.5" y2="1500" stroke="#f3f3f3" stroke-dasharray="6,6" stroke-dashoffset="1"/>
<line x1="192.5" y1="1325" x2="192.5" y2="1500" stroke="#f3f3f3" stroke-dasharray="6,6" stroke-dashoffset="1"/>
<line x1="233.5" y1="1325" x2="233.5" y2="1500" stroke="#f3f3f3" stroke-dasharray="6,6" stroke-dashoffset="1"/>
<line x1="254.5" y1="1325" x2="254.5" y2="1500" stroke="#f3f3f3" stroke-dasharray="6,6" stroke-dashoffset="1"/>
<line x1="275.5" y1="1325" x2="275.5" y2="1500" stroke="#f3f3f3" stroke-dasharray="6,6" stroke-dashoffset="1"/>
<line x1="295.5" y1="1325" x2="295.5" y2="1500" stroke="#f3f3f3" stroke-dasharray="6,6" stroke-dashoffset="1"/>
<line x1="336.5" y1="1325" x2="336.5" y2="1500" stroke="#f3f3f3" stroke-dasharray="6,6" stroke-dashoffset="1"/>
<line x1="357.5" y1="1325" x2="357.5" y2="1500" stroke="#f3f3f3" stroke-dasharray="6,6" stroke-dashoffset="1"/>
<line x1="377.5" y1="1325" x2="377.5" y2="1500" stroke="#f3f3f3" stroke-dasharray="6,6" stroke-dashoffset="1"/>
<line x1="398.5" y1="1325" x2="398.5" y2="1500" stroke="#f3f3f3" stroke-dasharray="6,6" stroke-dashoffset="1"/>
<line x1="439.5" y1="1325" x2="439.5" y2="1500" stroke="#f3f3f3" stroke-dasharray="6,6" stroke-dashoffset="1"/>
<line x1="460.5" y1="1325" x2="460.5" y2="1500" stroke="#f3f3f3" stroke-dasharray="6,6" stroke-dashoffset="1"/>
<line x1="480.5" y1="1325" x2="480.5" y2="1500" stroke="#f3f3f3" stroke-dasharray="6,6" stroke-dashoffset="1"/>
<line x1="501.5" y1="1325" x2="501.5" y2="1500" stroke="#f3f3f3" stroke-dasharray="6,6" stroke-dashoffset="1"/>
<line x1="542.5" y1="1325" x2="542.5" y2="1500" stroke="#f3f3f3" stroke-dasharray="6,6" stroke-dashoffset="1"/>
<line x1="563.5" y1="1325" x2="563.5" y2="1500" stroke="#f3f3f3" stroke-dasharray="6,6" stroke-dashoffset="1"/>
<line x1="583.5" y1="1325" x2="583.5" y2="1500" stroke="#f3f3f3" stroke-dasharray="6,6" stroke-dashoffset="1"/>
<line x1="604.5" y1="1325" x2="604.5" y2="1500" stroke="#f3f3f3" stroke-dasharray="6,6" stroke-dashoffset="1"/>
<line x1="645.5" y1="1325" x2="645.5" y2="1500" stroke="#f3f3f3" stroke-dasharray="6,6" stroke-dashoffset="1"/>
<line x1="666.5" y1="1325" x2="666.5" y2="1500" stroke="#f3f3f3" stroke-dasharray="6,6" stroke-dashoffset="1"/>
<line x1="686.5" y1="1325" x2="686.5" y2="1500" stroke="#f3f3f3" stroke-dasharray="6,6" stroke-dashoffset="1"/>
<line x1="707.5" y1="1325" x2="707.5" y2="1500" stroke="#f3f3f3" stroke-dasharray="6,6" stroke-dashoffset="1"/>
<line x1="748.5" y1="1325" x2="748.5" y2="1500" stroke="#f3f3f3" stroke-dasharray="6,6" stroke-dashoffset="1"/>
<line x1="769.5" y1="1325" x2="769.5" y2="1500" stroke="#f3f3f3" stroke-dasharray="6,6" stroke-dashoffset="1"/>
<line x1="789.5" y1="1325" x2="789.5" y2="1500" stroke="#f3f3f3" stroke-dasharray="6,6" stroke-dashoffset="1"/>
<line x1="810.5" y1="1325" x2="810.5" y2="1500" stroke="#f3f3f3" stroke-dasharray="6,6" stroke-dashoffset="1"/>
<line x1="851.5" y1="1325" x2="851.5" y2="1500" stroke="#f3f3f3" stroke-dasharray="6,6" stroke-dashoffset="1"/>
<line x1="872.5" y1="1325" x2="872.5" y2="1500" stroke="#f3f3f3" stroke-dasharray="6,6" stroke-dashoffset="1"/>
<line x1="892.5" y1="1325" x2="892.5" y2="1500" stroke="#f3f3f3" stroke-dasharray="6,6" stroke-dashoffset="1"/>
<line x1="913.5" y1="1325" x2="913.5" y2="1500" stroke="#f3f3f3" stroke-dasharray="6,6" stroke-dashoffset="1"/>
<line x1="954.5" y1="1325" x2="954.5" y2="1500" stroke="#f3f3f3" stroke-dasharray="6,6" stroke-dashoffset="1"/>
<line x1="975.5" y1="1325" x2="975.5" y2="1500" stroke="#f3f3f3" stroke-dasharray="6,6" stroke-dashoffset="1"/>
<line x1="995.5" y1="1325" x2="995.5" y2="1500" stroke="#f3f3f3" stroke-dasharray="6,6" stroke-dashoffset="1"/>
<line x1="1016.5" y1="1325" x2="1016.5" y2="1500" stroke="#f3f3f3" stroke-dasharray="6,6" stroke-dashoffset="1"/>
<line x1="1057.5" y1="1325" x2="1057.5" y2="1500" stroke="#f3f3f3" stroke-dasharray="6,6" stroke-dashoffset="1"/>
<line x1="1077.5" y1="1325" x2="1077.5" y2="1500" stroke="#f3f3f3" stroke-dasharray="6,6" stroke-dashoffset="1"/>
<line x1="1098.5" y1="1325" x2="1098.5" y2="1500" stroke="#f3f3f3" stroke-dasharray="6,6" stroke-dashoffset="1"/>
<line x1="1119.5" y1="1325" x2="1119.5" y2="1500" stroke="#f3f3f3" stroke-dasharray="6,6" stroke-dashoffset="1"/>
<line x1="107" y1="1325.5" x2="1151" y2="1325.5" stroke="#e2e2e2" stroke-dasharray="4,4"/>
<line x1="107" y1="1350.5" x2="1151" y2="1350.5" stroke="#e2e2e2" stroke-dasharray="4,4"/>
<line x1="107" y1="1375.5" x2="1151" y2="1375.5" stroke="#e2e2e2" stroke-dasharray="4,4"/>
<line x1="107" y1="1400.5" x2="1151" y2="1400.5" stroke="#e2e2e2" stroke-dasharray="4,4"/>
<line x1="107" y1="1425.5" x2="1151" y2="1425.5" stroke="#e2e2e2" stroke-dasharray="4,4"/>
<line x1="107" y1="1450.5" x2="1151" y2="1450.5" stroke="#e2e2e2" stroke-dasharray="4,4"/>
<line x1="107" y1="1475.5" x2="1151" y2="1475.5" stroke="#e2e2e2" stroke-dasharray="4,4"/>
<line x1="110.5" y1="1325" x2="110.5" y2="1500" stroke="#dcdcdc" stroke-dasharray="4,4" stroke-dashoffset="1"/>
<line x1="213.5" y1="1325" x2="213.5" y2="1500" stroke="#dcdcdc" stroke-dasharray="4,4" stroke-dashoffset="1"/>
<line x1="316.5" y1="1325" x2="316.5" y2="1500" stroke="#dcdcdc" stroke-dasharray="4,4" stroke-dashoffset="1"/>
<line x1="419.5" y1="1325" x2="419.5" y2="1500" stroke="#dcdcdc" stroke-dasharray="4,4" stroke-dashoffset="1"/>
<line x1="522.5" y1="1325" x2="522.5" y2="1500" stroke="#dcdcdc" stroke-dasharray="4,4" stroke-dashoffset="1"/>
<line x1="625.5" y1="1325" x2="625.5" y2="1500" stroke="#dcdcdc" stroke-dasharray="4,4" stroke-dashoffset="1"/>
<line x1="727.5" y1="1325" x2="727.5" y2="1500" stroke="#dcdcdc" stroke-dasharray="4,4" stroke-dashoffset="1"/>
<line x1="830.5" y1="1325" x2="830.5" y2="1500" stroke="#dcdcdc" stroke-dasharray="4,4" stroke-dashoffset="1"/>
<line x1="933.5" y1="1325" x2="933.5" y2="1500" stroke="#dcdcdc" stroke-dasharray="4,4" stroke-dashoffset="1"/>
<line x1="1036.5" y1="1325" x2="1036.5" y2="1500" stroke="#dcdcdc" stroke-dasharray="4,4" stroke-dashoffset="1"/>
<line x1="1139.5" y1="1325" x2="1139.5" y2="1500" stroke="#dcdcdc" stroke-dasharray="4,4" stroke-dashoffset="1"/>
<defs><clipPath id="cpup"><rect x="0" y="1300" width="1200" height="125.5"/></clipPath><clipPath id="cpdn"><rect x="0" y="1425.5" width="1200" height="100"/></clipPath></defs>
<polygon points="110.33,1425.50 110.33,1352.90 112.39,1351.74 114.45,1350.44 116.51,1349.05 118.57,1347.64 120.62,1346.28 122.68,1345.01 124.74,1343.92 126.80,1343.06 128.86,1342.50 130.92,1342.30 132.98,1342.31 135.04,1342.33 137.09,1342.36 139.15,1342.40 141.21,1342.45 143.27,1342.51 145.33,1342.58 147.39,1342.65 149.45,1342.72 151.51,1342.80 153.56,1342.89 155.62,1343.02 157.68,1343.16 159.74,1343.33 161.80,1343.52 163.86,1343.73 165.92,1343.95 167.98,1344.19 170.04,1344.44 172.09,1344.70 174.15,1344.98 176.21,1345.30 178.27,1345.65 180.33,1346.03 182.39,1346.45 184.45,1346.89 186.51,1347.36 188.56,1347.85 190.62,1348.37 192.68,1348.90 194.74,1349.47 196.80,1350.10 198.86,1350.78 200.92,1351.51 202.98,1352.28 205.03,1353.08 207.09,1353.92 209.15,1354.79 211.21,1355.69 213.27,1356.60 215.33,1357.59 217.39,1358.71 219.45,1359.92 221.51,1361.18 223.56,1362.46 225.62,1363.74 227.68,1364.98 229.74,1366.14 231.80,1367.19 233.86,1368.10 235.92,1368.90 237.98,1369.66 240.03,1370.37 242.09,1371.05 244.15,1371.69 246.21,1372.30 248.27,1372.90 250.33,1373.47 252.39,1374.04 254.45,1374.60 256.50,1375.18 258.56,1375.78 260.62,1376.38 262.68,1376.98 264.74,1377.56 266.80,1378.09 268.86,1378.57 270.92,1378.97 272.98,1379.29 275.03,1379.50 277.09,1379.64 279.15,1379.76 281.21,1379.86 283.27,1379.94 285.33,1380.02 287.39,1380.09 289.45,1380.16 291.50,1380.23 293.56,1380.31 295.62,1380.40 297.68,1380.49 299.74,1380.58 301.80,1380.67 303.86,1380.76 305.92,1380.85 307.97,1380.95 310.03,1381.06 312.09,1381.19 314.15,1381.33 316.21,1381.50 318.27,1381.72 320.33,1382.01 322.39,1382.36 324.45,1382.78 326.50,1383.25 328.56,1383.78 330.62,1384.34 332.68,1384.95 334.74,1385.59 336.80,1386.25 338.86,1387.03 340.92,1388.00 342.97,1389.12 345.03,1390.35 347.09,1391.66 349.15,1393.00 351.21,1394.34 353.27,1395.65 355.33,1396.88 357.39,1398.00 359.44,1399.02 361.50,1399.97 363.56,1400.89 365.62,1401.78 367.68,1402.66 369.74,1403.55 371.80,1404.46 373.86,1405.41 375.92,1406.42 377.97,1407.50 380.03,1408.73 382.09,1410.13 384.15,1411.66 386.21,1413.25 388.27,1414.86 390.33,1416.43 392.39,1417.91 394.44,1419.24 396.50,1420.37 398.56,1421.25 400.62,1421.96 402.68,1422.63 404.74,1423.24 406.80,1423.82 408.86,1424.34 410.91,1424.82 412.97,1425.25 415.03,1425.63 417.09,1425.97 419.15,1426.25 421.21,1426.51 423.27,1426.76 425.33,1427.01 427.39,1427.24 429.44,1427.45 431.50,1427.63 433.56,1427.79 435.62,1427.90 437.68,1427.97 439.74,1428.00 441.80,1427.99 443.86,1427.98 445.91,1427.95 447.97,1427.91 450.03,1427.86 452.09,1427.80 454.15,1427.74 456.21,1427.67 458.27,1427.59 460.33,1427.50 462.38,1427.32 464.44,1426.98 466.50,1426.53 468.56,1426.00 470.62,1425.44 472.68,1424.89 474.74,1424.39 476.80,1423.98 478.86,1423.70 480.91,1423.60 482.97,1424.00 485.03,1425.11 487.09,1426.79 489.15,1428.90 491.21,1431.29 493.27,1433.82 495.33,1436.34 497.38,1438.73 499.44,1440.83 501.50,1442.50 503.56,1443.86 505.62,1445.12 507.68,1446.29 509.74,1447.41 511.80,1448.48 513.85,1449.52 515.91,1450.55 517.97,1451.59 520.03,1452.65 522.09,1453.75 524.15,1454.89 526.21,1456.04 528.27,1457.20 530.33,1458.37 532.38,1459.53 534.44,1460.68 536.50,1461.81 538.56,1462.91 540.62,1463.98 542.68,1465.00 544.74,1466.02 546.80,1467.07 548.85,1468.13 550.91,1469.18 552.97,1470.19 555.03,1471.14 557.09,1472.02 559.15,1472.81 561.21,1473.47 563.27,1474.00 565.32,1474.42 567.38,1474.78 569.44,1475.09 571.50,1475.37 573.56,1475.62 575.62,1475.87 577.68,1476.12 579.74,1476.38 581.80,1476.67 583.85,1477.00 585.91,1477.39 587.97,1477.83 590.03,1478.31 592.09,1478.82 594.15,1479.32 596.21,1479.81 598.27,1480.27 600.32,1480.67 602.38,1481.01 604.44,1481.25 606.50,1481.43 608.56,1481.60 610.62,1481.74 612.68,1481.88 614.74,1482.00 616.79,1482.11 618.85,1482.21 620.91,1482.31 622.97,1482.41 625.03,1482.50 627.09,1482.60 629.15,1482.70 631.21,1482.80 633.27,1482.90 635.32,1482.99 637.38,1483.08 639.44,1483.15 641.50,1483.20 643.56,1483.24 645.62,1483.25 647.68,1483.08 649.74,1482.62 651.79,1481.92 653.85,1481.02 655.91,1479.98 657.97,1478.86 660.03,1477.69 662.09,1476.55 664.15,1475.46 666.21,1474.50 668.26,1473.61 670.32,1472.72 672.38,1471.83 674.44,1470.93 676.50,1470.03 678.56,1469.13 680.62,1468.23 682.68,1467.32 684.74,1466.41 686.79,1465.50 688.85,1464.51 690.91,1463.40 692.97,1462.22 695.03,1461.02 697.09,1459.85 699.15,1458.77 701.21,1457.81 703.26,1457.04 705.32,1456.50 707.38,1456.25 709.44,1456.16 711.50,1456.08 713.56,1456.00 715.62,1455.94 717.68,1455.88 719.73,1455.83 721.79,1455.80 723.85,1455.77 725.91,1455.76 727.97,1455.75 730.03,1455.80 732.09,1455.93 734.15,1456.13 736.21,1456.39 738.26,1456.69 740.32,1457.01 742.38,1457.34 744.44,1457.67 746.50,1457.98 748.56,1458.25 750.62,1458.52 752.68,1458.83 754.73,1459.16 756.79,1459.49 758.85,1459.81 760.91,1460.11 762.97,1460.37 765.03,1460.57 767.09,1460.70 769.15,1460.75 771.20,1460.70 773.26,1460.55 775.32,1460.31 777.38,1459.99 779.44,1459.61 781.50,1459.16 783.56,1458.67 785.62,1458.14 787.68,1457.58 789.73,1457.00 791.79,1456.20 793.85,1455.04 795.91,1453.61 797.97,1452.00 800.03,1450.30 802.09,1448.60 804.15,1447.01 806.20,1445.61 808.26,1444.49 810.32,1443.75 812.38,1443.27 814.44,1442.87 816.50,1442.53 818.56,1442.23 820.62,1441.96 822.67,1441.71 824.73,1441.45 826.79,1441.17 828.85,1440.86 830.91,1440.50 832.97,1440.08 835.03,1439.61 837.09,1439.11 839.15,1438.58 841.20,1438.04 843.26,1437.50 845.32,1436.97 847.38,1436.47 849.44,1436.01 851.50,1435.60 853.56,1435.23 855.62,1434.88 857.67,1434.55 859.73,1434.24 861.79,1433.94 863.85,1433.64 865.91,1433.35 867.97,1433.07 870.03,1432.79 872.09,1432.50 874.14,1432.19 876.20,1431.85 878.26,1431.49 880.32,1431.13 882.38,1430.79 884.44,1430.47 886.50,1430.20 888.56,1429.99 890.62,1429.85 892.67,1429.80 894.73,1429.90 896.79,1430.17 898.85,1430.59 900.91,1431.10 902.97,1431.68 905.03,1432.29 907.09,1432.89 909.14,1433.45 911.20,1433.93 913.26,1434.30 915.32,1434.59 917.38,1434.88 919.44,1435.16 921.50,1435.42 923.56,1435.67 925.61,1435.89 927.67,1436.09 929.73,1436.26 931.79,1436.40 933.85,1436.50 935.91,1436.57 937.97,1436.63 940.03,1436.67 942.09,1436.71 944.14,1436.74 946.20,1436.77 948.26,1436.81 950.32,1436.86 952.38,1436.92 954.44,1437.00 956.50,1437.16 958.56,1437.45 960.61,1437.85 962.67,1438.34 964.73,1438.88 966.79,1439.47 968.85,1440.08 970.91,1440.68 972.97,1441.27 975.03,1441.80 977.08,1442.36 979.14,1443.00 981.20,1443.69 983.26,1444.39 985.32,1445.08 987.38,1445.72 989.44,1446.27 991.50,1446.71 993.56,1447.00 995.61,1447.10 997.67,1446.80 999.73,1445.98 1001.79,1444.75 1003.85,1443.23 1005.91,1441.53 1007.97,1439.76 1010.03,1438.04 1012.08,1436.48 1014.14,1435.20 1016.20,1434.30 1018.26,1433.63 1020.32,1432.98 1022.38,1432.35 1024.44,1431.76 1026.50,1431.22 1028.55,1430.74 1030.61,1430.35 1032.67,1430.05 1034.73,1429.87 1036.79,1429.80 1038.85,1429.88 1040.91,1430.08 1042.97,1430.38 1045.03,1430.75 1047.08,1431.15 1049.14,1431.55 1051.20,1431.92 1053.26,1432.22 1055.32,1432.42 1057.38,1432.50 1059.44,1432.43 1061.50,1432.23 1063.55,1431.93 1065.61,1431.53 1067.67,1431.07 1069.73,1430.57 1071.79,1430.04 1073.85,1429.50 1075.91,1428.98 1077.97,1428.50 1080.02,1428.02 1082.08,1427.52 1084.14,1427.00 1086.20,1426.45 1088.26,1425.89 1090.32,1425.33 1092.38,1424.76 1094.44,1424.20 1096.50,1423.64 1098.55,1423.10 1100.61,1422.57 1102.67,1422.06 1104.73,1421.55 1106.79,1421.04 1108.85,1420.53 1110.91,1420.02 1112.97,1419.49 1115.02,1418.95 1117.08,1418.39 1119.14,1417.80 1121.20,1417.18 1123.26,1416.54 1125.32,1415.86 1127.38,1415.17 1129.44,1414.46 1131.49,1413.75 1133.55,1413.03 1135.61,1412.31 1137.67,1411.60 1139.73,1410.90 1139.73,1425.50" fill="#6eff6e" fill-opacity="0.7" clip-path="url(#cpup)" shape-rendering="crispEdges"/>
<polygon points="110.33,1425.50 110.33,1352.90 112.39,1351.74 114.45,1350.44 116.51,1349.05 118.57,1347.64 120.62,1346.28 122.68,1345.01 124.74,1343.92 126.80,1343.06 128.86,1342.50 130.92,1342.30 132.98,1342.31 135.04,1342.33 137.09,1342.36 139.15,1342.40 141.21,1342.45 143.27,1342.51 145.33,1342.58 147.39,1342.65 149.45,1342.72 151.51,1342.80 153.56,1342.89 155.62,1343.02 157.68,1343.16 159.74,1343.33 161.80,1343.52 163.86,1343.73 165.92,1343.95 167.98,1344.19 170.04,1344.44 172.09,1344.70 174.15,1344.98 176.21,1345.30 178.27,1345.65 180.33,1346.03 182.39,1346.45 184.45,1346.89 186.51,1347.36 188.56,1347.85 190.62,1348.37 192.68,1348.90 194.74,1349.47 196.80,1350.10 198.86,1350.78 200.92,1351.51 202.98,1352.28 205.03,1353.08 207.09,1353.92 209.15,1354.79 211.21,1355.69 213.27,1356.60 215.33,1357.59 217.39,1358.71 219.45,1359.92 221.51,1361.18 223.56,1362.46 225.62,1363.74 227.68,1364.98 229.74,1366.14 231.80,1367.19 233.86,1368.10 235.92,1368.90 237.98,1369.66 240.03,1370.37 242.09,1371.05 244.15,1371.69 246.21,1372.30 248.27,1372.90 250.33,1373.47 252.39,1374.04 254.45,1374.60 256.50,1375.18 258.56,1375.78 260.62,1376.38 262.68,1376.98 264.74,1377.56 266.80,1378.09 268.86,1378.57 270.92,1378.97 272.98,1379.29 275.03,1379.50 277.09,1379.64 279.15,1379.76 281.21,1379.86 283.27,1379.94 285.33,1380.02 287.39,1380.09 289.45,1380.16 291.50,1380.23 293.56,1380.31 295.62,1380.40 297.68,1380.49 299.74,1380.58 301.80,1380.67 303.86,1380.76 305.92,1380.85 307.97,1380.95 310.03,1381.06 312.09,1381.19 314.15,1381.33 316.21,1381.50 318.27,1381.72 320.33,1382.01 322.39,1382.36 324.45,1382.78 326.50,1383.25 328.56,1383.78 330.62,1384.34 332.68,1384.95 334.74,1385.59 336.80,1386.25 338.86,1387.03 340.92,1388.00 342.97,1389.12 345.03,1390.35 347.09,1391.66 349.15,1393.00 351.21,1394.34 353.27,1395.65 355.33,1396.88 357.39,1398.00 359.44,1399.02 361.50,1399.97 363.56,1400.89 365.62,1401.78 367.68,1402.66 369.74,1403.55 371.80,1404.46 373.86,1405.41 375.92,1406.42 377.97,1407.50 380.03,1408.73 382.09,1410.13 384.15,1411.66 386.21,1413.25 388.27,1414.86 390.33,1416.43 392.39,1417.91 394.44,1419.24 396.50,1420.37 398.56,1421.25 400.62,1421.96 402.68,1422.63 404.74,1423.24 406.80,1423.82 408.86,1424.34 410.91,1424.82 412.97,1425.25 415.03,1425.63 417.09,1425.97 419.15,1426.25 421.21,1426.51 423.27,1426.76 425.33,1427.01 427.39,1427.24 429.44,1427.45 431.50,1427.63 433.56,1427.79 435.62,1427.90 437.68,1427.97 439.74,1428.00 441.80,1427.99 443.86,1427.98 445.91,1427.95 447.97,1427.91 450.03,1427.86 452.09,1427.80 454.15,1427.74 456.21,1427.67 458.27,1427.59 460.33,1427.50 462.38,1427.32 464.44,1426.98 466.50,1426.53 468.56,1426.00 470.62,1425.44 472.68,1424.89 474.74,1424.39 476.80,1423.98 478.86,1423.70 480.91,1423.60 482.97,1424.00 485.03,1425.11 487.09,1426.79 489.15,1428.90 491.21,1431.29 493.27,1433.82 495.33,1436.34 497.38,1438.73 499.44,1440.83 501.50,1442.50 503.56,1443.86 505.62,1445.12 507.68,1446.29 509.74,1447.41 511.80,1448.48 513.85,1449.52 515.91,1450.55 517.97,1451.59 520.03,1452.65 522.09,1453.75 524.15,1454.89 526.21,1456.04 528.27,1457.20 530.33,1458.37 532.38,1459.53 534.44,1460.68 536.50,1461.81 538.56,1462.91 540.62,1463.98 542.68,1465.00 544.74,1466.02 546.80,1467.07 548.85,1468.13 550.91,1469.18 552.97,1470.19 555.03,1471.14 557.09,1472.02 559.15,1472.81 561.21,1473.47 563.27,1474.00 565.32,1474.42 567.38,1474.78 569.44,1475.09 571.50,1475.37 573.56,1475.62 575.62,1475.87 577.68,1476.12 579.74,1476.38 581.80,1476.67 583.85,1477.00 585.91,1477.39 587.97,1477.83 590.03,1478.31 592.09,1478.82 594.15,1479.32 596.21,1479.81 598.27,1480.27 600.32,1480.67 602.38,1481.01 604.44,1481.25 606.50,1481.43 608.56,1481.60 610.62,1481.74 612.68,1481.88 614.74,1482.00 616.79,1482.11 618.85,1482.21 620.91,1482.31 622.97,1482.41 625.03,1482.50 627.09,1482.60 629.15,1482.70 631.21,1482.80 633.27,1482.90 635.32,1482.99 637.38,1483.08 639.44,1483.15 641.50,1483.20 643.56,1483.24 645.62,1483.25 647.68,1483.08 649.74,1482.62 651.79,1481.92 653.85,1481.02 655.91,1479.98 657.97,1478.86 660.03,1477.69 662.09,1476.55 664.15,1475.46 666.21,1474.50 668.26,1473.61 670.32,1472.72 672.38,1471.83 674.44,1470.93 676.50,1470.03 678.56,1469.13 680.62,1468.23 682.68,1467.32 684.74,1466.41 686.79,1465.50 688.85,1464.51 690.91,1463.40 692.97,1462.22 695.03,1461.02 697.09,1459.85 699.15,1458.77 701.21,1457.81 703.26,1457.04 705.32,1456.50 707.38,1456.25 709.44,1456.16 711.50,1456.08 713.56,1456.00 715.62,1455.94 717.68,1455.88 719.73,1455.83 721.79,1455.80 723.85,1455.77 725.91,1455.76 727.97,1455.75 730.03,1455.80 732.09,1455.93 734.15,1456.13 736.21,1456.39 738.26,1456.69 740.32,1457.01 742.38,1457.34 744.44,1457.67 746.50,1457.98 748.56,1458.25 750.62,1458.52 752.68,1458.83 754.73,1459.16 756.79,1459.49 758.85,1459.81 760.91,1460.11 762.97,1460.37 765.03,1460.57 767.09,1460.70 769.15,1460.75 771.20,1460.70 773.26,1460.55 775.32,1460.31 777.38,1459.99 779.44,1459.61 781.50,1459.16 783.56,1458.67 785.62,1458.14 787.68,1457.58 789.73,1457.00 791.79,1456.20 793.85,1455.04 795.91,1453.61 797.97,1452.00 800.03,1450.30 802.09,1448.60 804.15,1447.01 806.20,1445.61 808.26,1444.49 810.32,1443.75 812.38,1443.27 814.44,1442.87 816.50,1442.53 818.56,1442.23 820.62,1441.96 822.67,1441.71 824.73,1441.45 826.79,1441.17 828.85,1440.86 830.91,1440.50 832.97,1440.08 835.03,1439.61 837.09,1439.11 839.15,1438.58 841.20,1438.04 843.26,1437.50 845.32,1436.97 847.38,1436.47 849.44,1436.01 851.50,1435.60 853.56,1435.23 855.62,1434.88 857.67,1434.55 859.73,1434.24 861.79,1433.94 863.85,1433.64 865.91,1433.35 867.97,1433.07 870.03,1432.79 872.09,1432.50 874.14,1432.19 876.20,1431.85 878.26,1431.49 880.32,1431.13 882.38,1430.79 884.44,1430.47 886.50,1430.20 888.56,1429.99 890.62,1429.85 892.67,1429.80 894.73,1429.90 896.79,1430.17 898.85,1430.59 900.91,1431.10 902.97,1431.68 905.03,1432.29 907.09,1432.89 909.14,1433.45 911.20,1433.93 913.26,1434.30 915.32,1434.59 917.38,1434.88 919.44,1435.16 921.50,1435.42 923.56,1435.67 925.61,1435.89 927.67,1436.09 929.73,1436.26 931.79,1436.40 933.85,1436.50 935.91,1436.57 937.97,1436.63 940.03,1436.67 942.09,1436.71 944.14,1436.74 946.20,1436.77 948.26,1436.81 950.32,1436.86 952.38,1436.92 954.44,1437.00 956.50,1437.16 958.56,1437.45 960.61,1437.85 962.67,1438.34 964.73,1438.88 966.79,1439.47 968.85,1440.08 970.91,1440.68 972.97,1441.27 975.03,1441.80 977.08,1442.36 979.14,1443.00 981.20,1443.69 983.26,1444.39 985.32,1445.08 987.38,1445.72 989.44,1446.27 991.50,1446.71 993.56,1447.00 995.61,1447.10 997.67,1446.80 999.73,1445.98 1001.79,1444.75 1003.85,1443.23 1005.91,1441.53 1007.97,1439.76 1010.03,1438.04 1012.08,1436.48 1014.14,1435.20 1016.20,1434.30 1018.26,1433.63 1020.32,1432.98 1022.38,1432.35 1024.44,1431.76 1026.50,1431.22 1028.55,1430.74 1030.61,1430.35 1032.67,1430.05 1034.73,1429.87 1036.79,1429.80 1038.85,1429.88 1040.91,1430.08 1042.97,1430.38 1045.03,1430.75 1047.08,1431.15 1049.14,1431.55 1051.20,1431.92 1053.26,1432.22 1055.32,1432.42 1057.38,1432.50 1059.44,1432.43 1061.50,1432.23 1063.55,1431.93 1065.61,1431.53 1067.67,1431.07 1069.73,1430.57 1071.79,1430.04 1073.85,1429.50 1075.91,1428.98 1077.97,1428.50 1080.02,1428.02 1082.08,1427.52 1084.14,1427.00 1086.20,1426.45 1088.26,1425.89 1090.32,1425.33 1092.38,1424.76 1094.44,1424.20 1096.50,1423.64 1098.55,1423.10 1100.61,1422.57 1102.67,1422.06 1104.73,1421.55 1106.79,1421.04 1108.85,1420.53 1110.91,1420.02 1112.97,1419.49 1115.02,1418.95 1117.08,1418.39 1119.14,1417.80 1121.20,1417.18 1123.26,1416.54 1125.32,1415.86 1127.38,1415.17 1129.44,1414.46 1131.49,1413.75 1133.55,1413.03 1135.61,1412.31 1137.67,1411.60 1139.73,1410.90 1139.73,1425.50" fill="#ff6e6e" fill-opacity="0.72" clip-path="url(#cpdn)" shape-rendering="crispEdges"/>
<rect x="110" y="1425" width="1030" height="1" fill="#90ee90"/>
<rect x="100" y="1318" width="1" height="183" fill="#1e1e1e"/>
<rect x="100" y="1313" width="1" height="1" fill="#000"/>
<rect x="99" y="1314" width="3" height="2" fill="#000"/>
<rect x="98" y="1316" width="5" height="2" fill="#000"/>
<rect x="97" y="1318" width="7" height="2" fill="#000"/>
<rect x="100" y="1500" width="1063" height="1" fill="#000"/>
<rect x="1155" y="1497" width="2" height="7" fill="#000"/>
<rect x="1157" y="1498" width="2" height="5" fill="#000"/>
<rect x="1159" y="1499" width="2" height="3" fill="#000"/>
<rect x="98" y="1325" width="5" height="1" fill="#000"/>
<rect x="98" y="1350" width="5" height="1" fill="#000"/>
<rect x="98" y="1375" width="5" height="1" fill="#000"/>
<rect x="98" y="1400" width="5" height="1" fill="#000"/>
<rect x="98" y="1425" width="5" height="1" fill="#000"/>
<rect x="98" y="1450" width="5" height="1" fill="#000"/>
<rect x="98" y="1475" width="5" height="1" fill="#000"/>
<rect x="98" y="1500" width="5" height="1" fill="#000"/>
<rect x="98" y="1337" width="3" height="1" fill="#ff0000"/>
<rect x="98" y="1362" width="3" height="1" fill="#ff0000"/>
<rect x="98" y="1387" width="3" height="1" fill="#ff0000"/>
<rect x="98" y="1412" width="3" height="1" fill="#ff0000"/>
<rect x="98" y="1437" width="3" height="1" fill="#ff0000"/>
<rect x="98" y="1462" width="3" height="1" fill="#ff0000"/>
<rect x="98" y="1487" width="3" height="1" fill="#ff0000"/>
<text x="99" y="1330" font-size="11" fill="#202020" text-anchor="end" textLength="24.98" lengthAdjust="spacingAndGlyphs">0.40</text>
<text x="99" y="1355" font-size="11" fill="#202020" text-anchor="end" textLength="24.98" lengthAdjust="spacingAndGlyphs">0.30</text>
<text x="99" y="1380" font-size="11" fill="#202020" text-anchor="end" textLength="24.98" lengthAdjust="spacingAndGlyphs">0.20</text>
<text x="99" y="1405" font-size="11" fill="#202020" text-anchor="end" textLength="24.98" lengthAdjust="spacingAndGlyphs">0.10</text>
<text x="99" y="1430" font-size="11" fill="#202020" text-anchor="end" textLength="24.98" lengthAdjust="spacingAndGlyphs">0.00</text>
<text x="99" y="1455" font-size="11" fill="#202020" text-anchor="end" textLength="29.03" lengthAdjust="spacingAndGlyphs">-0.10</text>
<text x="99" y="1480" font-size="11" fill="#202020" text-anchor="end" textLength="29.03" lengthAdjust="spacingAndGlyphs">-0.20</text>
<text x="99" y="1505" font-size="11" fill="#202020" text-anchor="end" textLength="29.03" lengthAdjust="spacingAndGlyphs">-0.30</text>
<rect x="110" y="1498" width="1" height="5" fill="#000"/>
<rect x="130" y="1501" width="1" height="2" fill="#c8c8c8"/>
<rect x="151" y="1501" width="1" height="2" fill="#c8c8c8"/>
<rect x="172" y="1501" width="1" height="2" fill="#c8c8c8"/>
<rect x="192" y="1501" width="1" height="2" fill="#c8c8c8"/>
<rect x="213" y="1498" width="1" height="5" fill="#000"/>
<rect x="233" y="1501" width="1" height="2" fill="#c8c8c8"/>
<rect x="254" y="1501" width="1" height="2" fill="#c8c8c8"/>
<rect x="275" y="1501" width="1" height="2" fill="#c8c8c8"/>
<rect x="295" y="1501" width="1" height="2" fill="#c8c8c8"/>
<rect x="316" y="1498" width="1" height="5" fill="#000"/>
<rect x="336" y="1501" width="1" height="2" fill="#c8c8c8"/>
<rect x="357" y="1501" width="1" height="2" fill="#c8c8c8"/>
<rect x="377" y="1501" width="1" height="2" fill="#c8c8c8"/>
<rect x="398" y="1501" width="1" height="2" fill="#c8c8c8"/>
<rect x="419" y="1498" width="1" height="5" fill="#000"/>
<rect x="439" y="1501" width="1" height="2" fill="#c8c8c8"/>
<rect x="460" y="1501" width="1" height="2" fill="#c8c8c8"/>
<rect x="480" y="1501" width="1" height="2" fill="#c8c8c8"/>
<rect x="501" y="1501" width="1" height="2" fill="#c8c8c8"/>
<rect x="522" y="1498" width="1" height="5" fill="#000"/>
<rect x="542" y="1501" width="1" height="2" fill="#c8c8c8"/>
<rect x="563" y="1501" width="1" height="2" fill="#c8c8c8"/>
<rect x="583" y="1501" width="1" height="2" fill="#c8c8c8"/>
<rect x="604" y="1501" width="1" height="2" fill="#c8c8c8"/>
<rect x="625" y="1498" width="1" height="5" fill="#000"/>
<rect x="645" y="1501" width="1" height="2" fill="#c8c8c8"/>
<rect x="666" y="1501" width="1" height="2" fill="#c8c8c8"/>
<rect x="686" y="1501" width="1" height="2" fill="#c8c8c8"/>
<rect x="707" y="1501" width="1" height="2" fill="#c8c8c8"/>
<rect x="727" y="1498" width="1" height="5" fill="#000"/>
<rect x="748" y="1501" width="1" height="2" fill="#c8c8c8"/>
<rect x="769" y="1501" width="1" height="2" fill="#c8c8c8"/>
<rect x="789" y="1501" width="1" height="2" fill="#c8c8c8"/>
<rect x="810" y="1501" width="1" height="2" fill="#c8c8c8"/>
<rect x="830" y="1498" width="1" height="5" fill="#000"/>
<rect x="851" y="1501" width="1" height="2" fill="#c8c8c8"/>
<rect x="872" y="1501" width="1" height="2" fill="#c8c8c8"/>
<rect x="892" y="1501" width="1" height="2" fill="#c8c8c8"/>
<rect x="913" y="1501" width="1" height="2" fill="#c8c8c8"/>
<rect x="933" y="1498" width="1" height="5" fill="#000"/>
<rect x="954" y="1501" width="1" height="2" fill="#c8c8c8"/>
<rect x="975" y="1501" width="1" height="2" fill="#c8c8c8"/>
<rect x="995" y="1501" width="1" height="2" fill="#c8c8c8"/>
<rect x="1016" y="1501" width="1" height="2" fill="#c8c8c8"/>
<rect x="1036" y="1498" width="1" height="5" fill="#000"/>
<rect x="1057" y="1501" width="1" height="2" fill="#c8c8c8"/>
<rect x="1077" y="1501" width="1" height="2" fill="#c8c8c8"/>
<rect x="1098" y="1501" width="1" height="2" fill="#c8c8c8"/>
<rect x="1119" y="1501" width="1" height="2" fill="#c8c8c8"/>
<rect x="1139" y="1498" width="1" height="5" fill="#000"/>
<text x="111.5" y="1513" font-size="11" fill="#202020" text-anchor="middle" textLength="30.55" lengthAdjust="spacingAndGlyphs">9 Oct</text>
<text x="214.5" y="1513" font-size="11" fill="#202020" text-anchor="middle" textLength="37.79" lengthAdjust="spacingAndGlyphs">16 Oct</text>
<text x="317.5" y="1513" font-size="11" fill="#202020" text-anchor="middle" textLength="37.79" lengthAdjust="spacingAndGlyphs">23 Oct</text>
<text x="420.5" y="1513" font-size="11" fill="#202020" text-anchor="middle" textLength="37.79" lengthAdjust="spacingAndGlyphs">30 Oct</text>
<text x="523.5" y="1513" font-size="11" fill="#202020" text-anchor="middle" textLength="33.08" lengthAdjust="spacingAndGlyphs">6 Nov</text>
<text x="626.5" y="1513" font-size="11" fill="#202020" text-anchor="middle" textLength="40.33" lengthAdjust="spacingAndGlyphs">13 Nov</text>
<text x="728.5" y="1513" font-size="11" fill="#202020" text-anchor="middle" textLength="40.33" lengthAdjust="spacingAndGlyphs">20 Nov</text>
<text x="831.5" y="1513" font-size="11" fill="#202020" text-anchor="middle" textLength="40.33" lengthAdjust="spacingAndGlyphs">27 Nov</text>
<text x="934.5" y="1514" font-size="11" fill="#202020" text-anchor="middle" textLength="32.89" lengthAdjust="spacingAndGlyphs">4 Déc</text>
<text x="1037.5" y="1514" font-size="11" fill="#202020" text-anchor="middle" textLength="40.14" lengthAdjust="spacingAndGlyphs">11 Déc</text>
<text x="1140.5" y="1514" font-size="11" fill="#202020" text-anchor="middle" textLength="40.14" lengthAdjust="spacingAndGlyphs">18 Déc</text>
<text x="627" y="1525" font-size="11" fill="#202020" text-anchor="middle" textLength="277.96" lengthAdjust="spacingAndGlyphs">Date (du 9 Octobre 2015 au 18 Décembre 2015)</text>
<text x="0" y="0" font-size="11" fill="#202020" text-anchor="middle" textLength="35.16" lengthAdjust="spacingAndGlyphs" transform="translate(67.5,1410.5) rotate(-90)">MACD</text>
</svg>
</body></html>
